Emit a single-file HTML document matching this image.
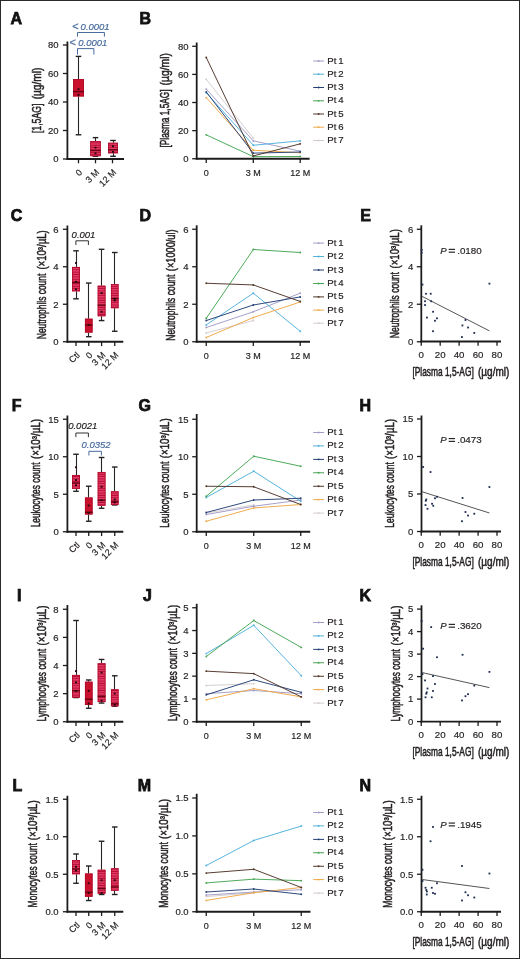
<!DOCTYPE html>
<html><head><meta charset="utf-8"><style>html,body{margin:0;padding:0;background:#fff;}svg{display:block;will-change:transform;}text{font-family:"Liberation Sans",sans-serif;}</style></head><body>
<svg width="520" height="959" viewBox="0 0 520 959">
<defs><pattern id="stripes" patternUnits="userSpaceOnUse" width="8" height="2.35"><rect width="8" height="2.35" fill="#e63c68"/><rect y="1.4" width="8" height="0.95" fill="#b40d34"/></pattern></defs>
<rect x="0" y="0" width="520" height="959" fill="#fff"/>
<text x="22" y="23.6" font-size="16" font-weight="bold" text-anchor="end" fill="#111" stroke="#111" stroke-width="0.75">A</text>
<line x1="67.4" y1="41.5" x2="67.4" y2="159.9" stroke="#1c1c1c" stroke-width="1.8" />
<line x1="62.9" y1="159" x2="67.4" y2="159" stroke="#1c1c1c" stroke-width="1.3" />
<text x="58.6" y="162.3" font-size="9.5" text-anchor="end" fill="#231f20" stroke="#231f20" stroke-width="0.18" >0</text>
<line x1="62.9" y1="130.5" x2="67.4" y2="130.5" stroke="#1c1c1c" stroke-width="1.3" />
<text x="58.6" y="133.8" font-size="9.5" text-anchor="end" fill="#231f20" stroke="#231f20" stroke-width="0.18" >20</text>
<line x1="62.9" y1="102" x2="67.4" y2="102" stroke="#1c1c1c" stroke-width="1.3" />
<text x="58.6" y="105.3" font-size="9.5" text-anchor="end" fill="#231f20" stroke="#231f20" stroke-width="0.18" >40</text>
<line x1="62.9" y1="73.5" x2="67.4" y2="73.5" stroke="#1c1c1c" stroke-width="1.3" />
<text x="58.6" y="76.8" font-size="9.5" text-anchor="end" fill="#231f20" stroke="#231f20" stroke-width="0.18" >60</text>
<line x1="62.9" y1="45" x2="67.4" y2="45" stroke="#1c1c1c" stroke-width="1.3" />
<text x="58.6" y="48.3" font-size="9.5" text-anchor="end" fill="#231f20" stroke="#231f20" stroke-width="0.18" >80</text>
<line x1="66.5" y1="159" x2="124" y2="159" stroke="#1c1c1c" stroke-width="1.8" />
<line x1="78.5" y1="159" x2="78.5" y2="163.3" stroke="#1c1c1c" stroke-width="1.3" />
<line x1="95.5" y1="159" x2="95.5" y2="163.3" stroke="#1c1c1c" stroke-width="1.3" />
<line x1="112.5" y1="159" x2="112.5" y2="163.3" stroke="#1c1c1c" stroke-width="1.3" />
<line x1="78.5" y1="56.4" x2="78.5" y2="79.06" stroke="#262626" stroke-width="1.1" />
<line x1="78.5" y1="96.44" x2="78.5" y2="134.78" stroke="#262626" stroke-width="1.1" />
<line x1="75.7" y1="56.4" x2="81.3" y2="56.4" stroke="#222" stroke-width="1.4" />
<line x1="75.7" y1="134.78" x2="81.3" y2="134.78" stroke="#222" stroke-width="1.4" />
<rect x="73" y="79.06" width="11" height="17.39" fill="#c9102c"/>
<rect x="73.4" y="79.46" width="10.2" height="16.59" fill="none" stroke="#b00a2a" stroke-width="0.8"/>
<line x1="73" y1="91.6" x2="84" y2="91.6" stroke="#6a0414" stroke-width="1.4" />
<rect x="77.5" y="88.27" width="2" height="1.8" fill="#2a060c"/>
<rect x="77.5" y="93.97" width="2" height="1.8" fill="#2a060c"/>
<line x1="95.5" y1="137.62" x2="95.5" y2="141.05" stroke="#262626" stroke-width="1.1" />
<line x1="95.5" y1="156.15" x2="95.5" y2="156.29" stroke="#262626" stroke-width="1.1" />
<line x1="92.7" y1="137.62" x2="98.3" y2="137.62" stroke="#222" stroke-width="1.4" />
<line x1="92.7" y1="156.29" x2="98.3" y2="156.29" stroke="#222" stroke-width="1.4" />
<rect x="90.25" y="141.05" width="10.5" height="15.1" fill="url(#stripes)"/>
<rect x="90.65" y="141.45" width="9.7" height="14.3" fill="none" stroke="#b00a2a" stroke-width="0.8"/>
<line x1="90.25" y1="150.45" x2="100.75" y2="150.45" stroke="#6a0414" stroke-width="1.4" />
<rect x="94.5" y="146.7" width="2" height="1.8" fill="#2a060c"/>
<rect x="94.5" y="152.4" width="2" height="1.8" fill="#2a060c"/>
<line x1="113.5" y1="140.47" x2="113.5" y2="142.75" stroke="#262626" stroke-width="1.1" />
<line x1="113.5" y1="153.3" x2="113.5" y2="156.29" stroke="#262626" stroke-width="1.1" />
<line x1="110.2" y1="140.47" x2="115.8" y2="140.47" stroke="#222" stroke-width="1.4" />
<line x1="110.2" y1="156.29" x2="115.8" y2="156.29" stroke="#222" stroke-width="1.4" />
<rect x="108" y="142.75" width="10" height="10.55" fill="url(#stripes)"/>
<rect x="108.4" y="143.16" width="9.2" height="9.75" fill="none" stroke="#b00a2a" stroke-width="0.8"/>
<line x1="108" y1="149.74" x2="118" y2="149.74" stroke="#6a0414" stroke-width="1.4" />
<rect x="112" y="145.28" width="2" height="1.8" fill="#2a060c"/>
<rect x="112" y="150.97" width="2" height="1.8" fill="#2a060c"/>
<text transform="translate(82.9,173) rotate(-45)" x="0" y="0" font-size="9" text-anchor="end" fill="#231f20" stroke="#231f20" stroke-width="0.18">0</text>
<text transform="translate(99.9,173) rotate(-45)" x="0" y="0" font-size="9" text-anchor="end" fill="#231f20" stroke="#231f20" stroke-width="0.18">3 M</text>
<text transform="translate(116.9,173) rotate(-45)" x="0" y="0" font-size="9" text-anchor="end" fill="#231f20" stroke="#231f20" stroke-width="0.18">12 M</text>
<text transform="translate(40.6,133.11) rotate(-90)" x="0" y="0" font-size="11.9" fill="#231f20" stroke="#231f20" stroke-width="0.5" textLength="29.48" lengthAdjust="spacingAndGlyphs">[1,5AG]</text>
<text transform="translate(40.6,99.36) rotate(-90)" x="0" y="0" font-size="11.9" fill="#231f20" stroke="#231f20" stroke-width="0.5" textLength="31.68" lengthAdjust="spacingAndGlyphs">(µg/ml)</text>
<text x="72.2" y="29.6" font-size="11" text-anchor="start" fill="#476c9e" stroke="#476c9e" stroke-width="0.18" >&lt;</text>
<text x="80.6" y="29.6" font-size="9.5" font-style="italic" fill="#476c9e" stroke="#476c9e" stroke-width="0.18" text-anchor="start">0.0001</text>
<path d="M77.5,36.7 V32.5 H104.4 V36.7" fill="none" stroke="#476c9e" stroke-width="1"/>
<text x="69.6" y="45.5" font-size="11" text-anchor="start" fill="#476c9e" stroke="#476c9e" stroke-width="0.18" >&lt;</text>
<text x="78.3" y="45.5" font-size="9.5" font-style="italic" fill="#476c9e" stroke="#476c9e" stroke-width="0.18" text-anchor="start">0.0001</text>
<path d="M77.5,54.5 V48.6 H93.9 V54.5" fill="none" stroke="#476c9e" stroke-width="1"/>
<text x="151" y="23.6" font-size="16" font-weight="bold" text-anchor="end" fill="#111" stroke="#111" stroke-width="0.75">B</text>
<line x1="196.7" y1="42.5" x2="196.7" y2="159.65" stroke="#1c1c1c" stroke-width="1.8" />
<line x1="192.2" y1="158.75" x2="196.7" y2="158.75" stroke="#1c1c1c" stroke-width="1.3" />
<text x="188.6" y="162.05" font-size="9.5" text-anchor="end" fill="#231f20" stroke="#231f20" stroke-width="0.18" >0</text>
<line x1="192.2" y1="130.63" x2="196.7" y2="130.63" stroke="#1c1c1c" stroke-width="1.3" />
<text x="188.6" y="133.93" font-size="9.5" text-anchor="end" fill="#231f20" stroke="#231f20" stroke-width="0.18" >20</text>
<line x1="192.2" y1="102.51" x2="196.7" y2="102.51" stroke="#1c1c1c" stroke-width="1.3" />
<text x="188.6" y="105.81" font-size="9.5" text-anchor="end" fill="#231f20" stroke="#231f20" stroke-width="0.18" >40</text>
<line x1="192.2" y1="74.39" x2="196.7" y2="74.39" stroke="#1c1c1c" stroke-width="1.3" />
<text x="188.6" y="77.69" font-size="9.5" text-anchor="end" fill="#231f20" stroke="#231f20" stroke-width="0.18" >60</text>
<line x1="192.2" y1="46.27" x2="196.7" y2="46.27" stroke="#1c1c1c" stroke-width="1.3" />
<text x="188.6" y="49.57" font-size="9.5" text-anchor="end" fill="#231f20" stroke="#231f20" stroke-width="0.18" >80</text>
<line x1="195.8" y1="158.75" x2="309.6" y2="158.75" stroke="#1c1c1c" stroke-width="1.8" />
<line x1="206.25" y1="158.75" x2="206.25" y2="163.05" stroke="#1c1c1c" stroke-width="1.3" />
<line x1="253.3" y1="158.75" x2="253.3" y2="163.05" stroke="#1c1c1c" stroke-width="1.3" />
<line x1="300.2" y1="158.75" x2="300.2" y2="163.05" stroke="#1c1c1c" stroke-width="1.3" />
<text x="206.25" y="175.8" font-size="9" text-anchor="middle" fill="#231f20" stroke="#231f20" stroke-width="0.18" >0</text>
<text x="253.3" y="175.8" font-size="9" text-anchor="middle" fill="#231f20" stroke="#231f20" stroke-width="0.18" >3 M</text>
<text x="300.2" y="175.8" font-size="9" text-anchor="middle" fill="#231f20" stroke="#231f20" stroke-width="0.18" >12 M</text>
<polyline points="206.25,79.31 253.3,138.22" fill="none" stroke="#d4cbd0" stroke-width="0.95"/>
<circle cx="206.25" cy="79.31" r="0.95" fill="#d4cbd0"/>
<circle cx="253.3" cy="138.22" r="0.95" fill="#d4cbd0"/>
<polyline points="206.25,89.15 253.3,140.89 300.2,151.16" fill="none" stroke="#a09bc8" stroke-width="0.95"/>
<circle cx="206.25" cy="89.15" r="0.95" fill="#a09bc8"/>
<circle cx="253.3" cy="140.89" r="0.95" fill="#a09bc8"/>
<circle cx="300.2" cy="151.16" r="0.95" fill="#a09bc8"/>
<polyline points="206.25,92.67 253.3,145.25 300.2,140.89" fill="none" stroke="#4fb0dc" stroke-width="0.95"/>
<circle cx="206.25" cy="92.67" r="0.95" fill="#4fb0dc"/>
<circle cx="253.3" cy="145.25" r="0.95" fill="#4fb0dc"/>
<circle cx="300.2" cy="140.89" r="0.95" fill="#4fb0dc"/>
<polyline points="206.25,97.59 253.3,150.31 300.2,152.7" fill="none" stroke="#eea846" stroke-width="0.95"/>
<circle cx="206.25" cy="97.59" r="0.95" fill="#eea846"/>
<circle cx="253.3" cy="150.31" r="0.95" fill="#eea846"/>
<circle cx="300.2" cy="152.7" r="0.95" fill="#eea846"/>
<polyline points="206.25,91.97 253.3,153.13 300.2,152" fill="none" stroke="#233f75" stroke-width="0.95"/>
<circle cx="206.25" cy="91.97" r="0.95" fill="#233f75"/>
<circle cx="253.3" cy="153.13" r="0.95" fill="#233f75"/>
<circle cx="300.2" cy="152" r="0.95" fill="#233f75"/>
<polyline points="206.25,134.85 253.3,156.64 300.2,156.5" fill="none" stroke="#45a552" stroke-width="0.95"/>
<circle cx="206.25" cy="134.85" r="0.95" fill="#45a552"/>
<circle cx="253.3" cy="156.64" r="0.95" fill="#45a552"/>
<circle cx="300.2" cy="156.5" r="0.95" fill="#45a552"/>
<polyline points="206.25,57.52 253.3,155.94 300.2,143.85" fill="none" stroke="#4f3428" stroke-width="0.95"/>
<circle cx="206.25" cy="57.52" r="0.95" fill="#4f3428"/>
<circle cx="253.3" cy="155.94" r="0.95" fill="#4f3428"/>
<circle cx="300.2" cy="143.85" r="0.95" fill="#4f3428"/>
<line x1="313.2" y1="61" x2="324" y2="61" stroke="#a09bc8" stroke-width="1.0" />
<circle cx="318.6" cy="61" r="0.9" fill="#a09bc8"/>
<text x="327.3" y="63.5" font-size="9.6" fill="#231f20" stroke="#231f20" stroke-width="0.18">Pt</text><text x="338.3" y="63.5" font-size="9.6" fill="#231f20" stroke="#231f20" stroke-width="0.18">1</text>
<line x1="313.2" y1="74.2" x2="324" y2="74.2" stroke="#4fb0dc" stroke-width="1.0" />
<circle cx="318.6" cy="74.2" r="0.9" fill="#4fb0dc"/>
<text x="327.3" y="76.7" font-size="9.6" fill="#231f20" stroke="#231f20" stroke-width="0.18">Pt</text><text x="338.3" y="76.7" font-size="9.6" fill="#231f20" stroke="#231f20" stroke-width="0.18">2</text>
<line x1="313.2" y1="87.5" x2="324" y2="87.5" stroke="#233f75" stroke-width="1.0" />
<circle cx="318.6" cy="87.5" r="0.9" fill="#233f75"/>
<text x="327.3" y="90" font-size="9.6" fill="#231f20" stroke="#231f20" stroke-width="0.18">Pt</text><text x="338.3" y="90" font-size="9.6" fill="#231f20" stroke="#231f20" stroke-width="0.18">3</text>
<line x1="313.2" y1="100.8" x2="324" y2="100.8" stroke="#45a552" stroke-width="1.0" />
<circle cx="318.6" cy="100.8" r="0.9" fill="#45a552"/>
<text x="327.3" y="103.3" font-size="9.6" fill="#231f20" stroke="#231f20" stroke-width="0.18">Pt</text><text x="338.3" y="103.3" font-size="9.6" fill="#231f20" stroke="#231f20" stroke-width="0.18">4</text>
<line x1="313.2" y1="114" x2="324" y2="114" stroke="#4f3428" stroke-width="1.0" />
<circle cx="318.6" cy="114" r="0.9" fill="#4f3428"/>
<text x="327.3" y="116.5" font-size="9.6" fill="#231f20" stroke="#231f20" stroke-width="0.18">Pt</text><text x="338.3" y="116.5" font-size="9.6" fill="#231f20" stroke="#231f20" stroke-width="0.18">5</text>
<line x1="313.2" y1="127.2" x2="324" y2="127.2" stroke="#eea846" stroke-width="1.0" />
<circle cx="318.6" cy="127.2" r="0.9" fill="#eea846"/>
<text x="327.3" y="129.7" font-size="9.6" fill="#231f20" stroke="#231f20" stroke-width="0.18">Pt</text><text x="338.3" y="129.7" font-size="9.6" fill="#231f20" stroke="#231f20" stroke-width="0.18">6</text>
<line x1="313.2" y1="140.5" x2="324" y2="140.5" stroke="#d4cbd0" stroke-width="1.0" />
<circle cx="318.6" cy="140.5" r="0.9" fill="#d4cbd0"/>
<text x="327.3" y="143" font-size="9.6" fill="#231f20" stroke="#231f20" stroke-width="0.18">Pt</text><text x="338.3" y="143" font-size="9.6" fill="#231f20" stroke="#231f20" stroke-width="0.18">7</text>
<text transform="translate(169.4,147.48) rotate(-90)" x="0" y="0" font-size="11.9" fill="#231f20" stroke="#231f20" stroke-width="0.5" textLength="58.04" lengthAdjust="spacingAndGlyphs">[Plasma 1,5AG]</text>
<text transform="translate(169.4,85.42) rotate(-90)" x="0" y="0" font-size="11.9" fill="#231f20" stroke="#231f20" stroke-width="0.5" textLength="32.3" lengthAdjust="spacingAndGlyphs">(µg/ml)</text>
<text x="22.3" y="221.3" font-size="16" font-weight="bold" text-anchor="end" fill="#111" stroke="#111" stroke-width="0.75">C</text>
<line x1="67.4" y1="225.5" x2="67.4" y2="342.65" stroke="#1c1c1c" stroke-width="1.8" />
<line x1="62.9" y1="341.75" x2="67.4" y2="341.75" stroke="#1c1c1c" stroke-width="1.3" />
<text x="58.6" y="345.05" font-size="9.5" text-anchor="end" fill="#231f20" stroke="#231f20" stroke-width="0.18" >0</text>
<line x1="62.9" y1="304.25" x2="67.4" y2="304.25" stroke="#1c1c1c" stroke-width="1.3" />
<text x="58.6" y="307.55" font-size="9.5" text-anchor="end" fill="#231f20" stroke="#231f20" stroke-width="0.18" >2</text>
<line x1="62.9" y1="266.75" x2="67.4" y2="266.75" stroke="#1c1c1c" stroke-width="1.3" />
<text x="58.6" y="270.05" font-size="9.5" text-anchor="end" fill="#231f20" stroke="#231f20" stroke-width="0.18" >4</text>
<line x1="62.9" y1="229.25" x2="67.4" y2="229.25" stroke="#1c1c1c" stroke-width="1.3" />
<text x="58.6" y="232.55" font-size="9.5" text-anchor="end" fill="#231f20" stroke="#231f20" stroke-width="0.18" >6</text>
<line x1="66.5" y1="341.75" x2="123.3" y2="341.75" stroke="#1c1c1c" stroke-width="1.8" />
<line x1="76" y1="341.75" x2="76" y2="346.05" stroke="#1c1c1c" stroke-width="1.3" />
<line x1="88.75" y1="341.75" x2="88.75" y2="346.05" stroke="#1c1c1c" stroke-width="1.3" />
<line x1="101.6" y1="341.75" x2="101.6" y2="346.05" stroke="#1c1c1c" stroke-width="1.3" />
<line x1="114.75" y1="341.75" x2="114.75" y2="346.05" stroke="#1c1c1c" stroke-width="1.3" />
<line x1="76.5" y1="250.81" x2="76.5" y2="266.94" stroke="#262626" stroke-width="1.1" />
<line x1="76.5" y1="291.31" x2="76.5" y2="298.81" stroke="#262626" stroke-width="1.1" />
<line x1="73.2" y1="250.81" x2="78.8" y2="250.81" stroke="#222" stroke-width="1.4" />
<line x1="73.2" y1="298.81" x2="78.8" y2="298.81" stroke="#222" stroke-width="1.4" />
<rect x="72" y="266.94" width="8" height="24.38" fill="url(#stripes)"/>
<rect x="72.4" y="267.34" width="7.2" height="23.57" fill="none" stroke="#b00a2a" stroke-width="0.8"/>
<line x1="72" y1="282.69" x2="80" y2="282.69" stroke="#6a0414" stroke-width="1.4" />
<rect x="75" y="280.85" width="2" height="1.8" fill="#2a060c"/>
<rect x="75" y="288.35" width="2" height="1.8" fill="#2a060c"/>
<rect x="75" y="262.1" width="2" height="1.8" fill="#2a060c"/>
<line x1="88.5" y1="283.06" x2="88.5" y2="318.69" stroke="#262626" stroke-width="1.1" />
<line x1="88.5" y1="332.56" x2="88.5" y2="336.69" stroke="#262626" stroke-width="1.1" />
<line x1="85.95" y1="283.06" x2="91.55" y2="283.06" stroke="#222" stroke-width="1.4" />
<line x1="85.95" y1="336.69" x2="91.55" y2="336.69" stroke="#222" stroke-width="1.4" />
<rect x="84.95" y="318.69" width="7.6" height="13.88" fill="#c9102c"/>
<rect x="85.35" y="319.09" width="6.8" height="13.07" fill="none" stroke="#b00a2a" stroke-width="0.8"/>
<line x1="84.95" y1="325.06" x2="92.55" y2="325.06" stroke="#6a0414" stroke-width="1.4" />
<rect x="87.75" y="323.98" width="2" height="1.8" fill="#2a060c"/>
<line x1="101.5" y1="249.31" x2="101.5" y2="285.69" stroke="#262626" stroke-width="1.1" />
<line x1="101.5" y1="316.25" x2="101.5" y2="320.56" stroke="#262626" stroke-width="1.1" />
<line x1="98.8" y1="249.31" x2="104.4" y2="249.31" stroke="#222" stroke-width="1.4" />
<line x1="98.8" y1="320.56" x2="104.4" y2="320.56" stroke="#222" stroke-width="1.4" />
<rect x="97.7" y="285.69" width="7.8" height="30.56" fill="url(#stripes)"/>
<rect x="98.1" y="286.09" width="7" height="29.76" fill="none" stroke="#b00a2a" stroke-width="0.8"/>
<line x1="97.7" y1="305.19" x2="105.5" y2="305.19" stroke="#6a0414" stroke-width="1.4" />
<rect x="100.6" y="310.85" width="2" height="1.8" fill="#2a060c"/>
<rect x="100.6" y="292.1" width="2" height="1.8" fill="#2a060c"/>
<line x1="114.5" y1="252.5" x2="114.5" y2="284.19" stroke="#262626" stroke-width="1.1" />
<line x1="114.5" y1="308.19" x2="114.5" y2="331.25" stroke="#262626" stroke-width="1.1" />
<line x1="111.95" y1="252.5" x2="117.55" y2="252.5" stroke="#222" stroke-width="1.4" />
<line x1="111.95" y1="331.25" x2="117.55" y2="331.25" stroke="#222" stroke-width="1.4" />
<rect x="110.95" y="284.19" width="7.6" height="24" fill="url(#stripes)"/>
<rect x="111.35" y="284.59" width="6.8" height="23.2" fill="none" stroke="#b00a2a" stroke-width="0.8"/>
<line x1="110.95" y1="298.62" x2="118.55" y2="298.62" stroke="#6a0414" stroke-width="1.4" />
<rect x="113.75" y="297.73" width="2" height="1.8" fill="#2a060c"/>
<rect x="113.75" y="299.6" width="2" height="1.8" fill="#2a060c"/>
<text transform="translate(80.4,355.75) rotate(-45)" x="0" y="0" font-size="9" text-anchor="end" fill="#231f20" stroke="#231f20" stroke-width="0.18">Ctl</text>
<text transform="translate(93.15,355.75) rotate(-45)" x="0" y="0" font-size="9" text-anchor="end" fill="#231f20" stroke="#231f20" stroke-width="0.18">0</text>
<text transform="translate(106,355.75) rotate(-45)" x="0" y="0" font-size="9" text-anchor="end" fill="#231f20" stroke="#231f20" stroke-width="0.18">3 M</text>
<text transform="translate(119.15,355.75) rotate(-45)" x="0" y="0" font-size="9" text-anchor="end" fill="#231f20" stroke="#231f20" stroke-width="0.18">12 M</text>
<text transform="translate(45.7,339.17) rotate(-90)" x="0" y="0" font-size="11.9" fill="#231f20" stroke="#231f20" stroke-width="0.5" textLength="65.49" lengthAdjust="spacingAndGlyphs">Neutrophils count</text>
<text transform="translate(45.7,269.58) rotate(-90)" x="0" y="0" font-size="11.9" fill="#231f20" stroke="#231f20" stroke-width="0.5" textLength="39.36" lengthAdjust="spacingAndGlyphs">(×10³/µL)</text>
<text x="71.6" y="237.6" font-size="9.5" font-style="italic" fill="#231f20" stroke="#231f20" stroke-width="0.18" text-anchor="start">0.001</text>
<path d="M75.9,245 V240.8 H88.4 V245" fill="none" stroke="#333" stroke-width="1"/>
<text x="151" y="221.3" font-size="16" font-weight="bold" text-anchor="end" fill="#111" stroke="#111" stroke-width="0.75">D</text>
<line x1="196.7" y1="225.3" x2="196.7" y2="342.65" stroke="#1c1c1c" stroke-width="1.8" />
<line x1="192.2" y1="341.75" x2="196.7" y2="341.75" stroke="#1c1c1c" stroke-width="1.3" />
<text x="188.6" y="345.05" font-size="9.5" text-anchor="end" fill="#231f20" stroke="#231f20" stroke-width="0.18" >0</text>
<line x1="192.2" y1="304.25" x2="196.7" y2="304.25" stroke="#1c1c1c" stroke-width="1.3" />
<text x="188.6" y="307.55" font-size="9.5" text-anchor="end" fill="#231f20" stroke="#231f20" stroke-width="0.18" >2</text>
<line x1="192.2" y1="266.75" x2="196.7" y2="266.75" stroke="#1c1c1c" stroke-width="1.3" />
<text x="188.6" y="270.05" font-size="9.5" text-anchor="end" fill="#231f20" stroke="#231f20" stroke-width="0.18" >4</text>
<line x1="192.2" y1="229.25" x2="196.7" y2="229.25" stroke="#1c1c1c" stroke-width="1.3" />
<text x="188.6" y="232.55" font-size="9.5" text-anchor="end" fill="#231f20" stroke="#231f20" stroke-width="0.18" >6</text>
<line x1="195.8" y1="341.75" x2="310" y2="341.75" stroke="#1c1c1c" stroke-width="1.8" />
<line x1="206.25" y1="341.75" x2="206.25" y2="346.05" stroke="#1c1c1c" stroke-width="1.3" />
<line x1="253.3" y1="341.75" x2="253.3" y2="346.05" stroke="#1c1c1c" stroke-width="1.3" />
<line x1="300.2" y1="341.75" x2="300.2" y2="346.05" stroke="#1c1c1c" stroke-width="1.3" />
<text x="206.25" y="358.8" font-size="9" text-anchor="middle" fill="#231f20" stroke="#231f20" stroke-width="0.18" >0</text>
<text x="253.3" y="358.8" font-size="9" text-anchor="middle" fill="#231f20" stroke="#231f20" stroke-width="0.18" >3 M</text>
<text x="300.2" y="358.8" font-size="9" text-anchor="middle" fill="#231f20" stroke="#231f20" stroke-width="0.18" >12 M</text>
<polyline points="206.25,332.94 253.3,320.56" fill="none" stroke="#d4cbd0" stroke-width="0.95"/>
<circle cx="206.25" cy="332.94" r="0.95" fill="#d4cbd0"/>
<circle cx="253.3" cy="320.56" r="0.95" fill="#d4cbd0"/>
<polyline points="206.25,327.5 253.3,311.75 300.2,293.19" fill="none" stroke="#a09bc8" stroke-width="0.95"/>
<circle cx="206.25" cy="327.5" r="0.95" fill="#a09bc8"/>
<circle cx="253.3" cy="311.75" r="0.95" fill="#a09bc8"/>
<circle cx="300.2" cy="293.19" r="0.95" fill="#a09bc8"/>
<polyline points="206.25,324.88 253.3,293.19 300.2,331.25" fill="none" stroke="#4fb0dc" stroke-width="0.95"/>
<circle cx="206.25" cy="324.88" r="0.95" fill="#4fb0dc"/>
<circle cx="253.3" cy="293.19" r="0.95" fill="#4fb0dc"/>
<circle cx="300.2" cy="331.25" r="0.95" fill="#4fb0dc"/>
<polyline points="206.25,337.44 253.3,317.56 300.2,302" fill="none" stroke="#eea846" stroke-width="0.95"/>
<circle cx="206.25" cy="337.44" r="0.95" fill="#eea846"/>
<circle cx="253.3" cy="317.56" r="0.95" fill="#eea846"/>
<circle cx="300.2" cy="302" r="0.95" fill="#eea846"/>
<polyline points="206.25,320.56 253.3,305 300.2,296.94" fill="none" stroke="#233f75" stroke-width="0.95"/>
<circle cx="206.25" cy="320.56" r="0.95" fill="#233f75"/>
<circle cx="253.3" cy="305" r="0.95" fill="#233f75"/>
<circle cx="300.2" cy="296.94" r="0.95" fill="#233f75"/>
<polyline points="206.25,318.31 253.3,249.5 300.2,252.5" fill="none" stroke="#45a552" stroke-width="0.95"/>
<circle cx="206.25" cy="318.31" r="0.95" fill="#45a552"/>
<circle cx="253.3" cy="249.5" r="0.95" fill="#45a552"/>
<circle cx="300.2" cy="252.5" r="0.95" fill="#45a552"/>
<polyline points="206.25,283.25 253.3,284.94 300.2,301.44" fill="none" stroke="#4f3428" stroke-width="0.95"/>
<circle cx="206.25" cy="283.25" r="0.95" fill="#4f3428"/>
<circle cx="253.3" cy="284.94" r="0.95" fill="#4f3428"/>
<circle cx="300.2" cy="301.44" r="0.95" fill="#4f3428"/>
<line x1="313.2" y1="243.1" x2="324" y2="243.1" stroke="#a09bc8" stroke-width="1.0" />
<circle cx="318.6" cy="243.1" r="0.9" fill="#a09bc8"/>
<text x="327.3" y="245.6" font-size="9.6" fill="#231f20" stroke="#231f20" stroke-width="0.18">Pt</text><text x="338.3" y="245.6" font-size="9.6" fill="#231f20" stroke="#231f20" stroke-width="0.18">1</text>
<line x1="313.2" y1="256.5" x2="324" y2="256.5" stroke="#4fb0dc" stroke-width="1.0" />
<circle cx="318.6" cy="256.5" r="0.9" fill="#4fb0dc"/>
<text x="327.3" y="259" font-size="9.6" fill="#231f20" stroke="#231f20" stroke-width="0.18">Pt</text><text x="338.3" y="259" font-size="9.6" fill="#231f20" stroke="#231f20" stroke-width="0.18">2</text>
<line x1="313.2" y1="270" x2="324" y2="270" stroke="#233f75" stroke-width="1.0" />
<circle cx="318.6" cy="270" r="0.9" fill="#233f75"/>
<text x="327.3" y="272.5" font-size="9.6" fill="#231f20" stroke="#231f20" stroke-width="0.18">Pt</text><text x="338.3" y="272.5" font-size="9.6" fill="#231f20" stroke="#231f20" stroke-width="0.18">3</text>
<line x1="313.2" y1="283.5" x2="324" y2="283.5" stroke="#45a552" stroke-width="1.0" />
<circle cx="318.6" cy="283.5" r="0.9" fill="#45a552"/>
<text x="327.3" y="286" font-size="9.6" fill="#231f20" stroke="#231f20" stroke-width="0.18">Pt</text><text x="338.3" y="286" font-size="9.6" fill="#231f20" stroke="#231f20" stroke-width="0.18">4</text>
<line x1="313.2" y1="296.9" x2="324" y2="296.9" stroke="#4f3428" stroke-width="1.0" />
<circle cx="318.6" cy="296.9" r="0.9" fill="#4f3428"/>
<text x="327.3" y="299.4" font-size="9.6" fill="#231f20" stroke="#231f20" stroke-width="0.18">Pt</text><text x="338.3" y="299.4" font-size="9.6" fill="#231f20" stroke="#231f20" stroke-width="0.18">5</text>
<line x1="313.2" y1="310.1" x2="324" y2="310.1" stroke="#eea846" stroke-width="1.0" />
<circle cx="318.6" cy="310.1" r="0.9" fill="#eea846"/>
<text x="327.3" y="312.6" font-size="9.6" fill="#231f20" stroke="#231f20" stroke-width="0.18">Pt</text><text x="338.3" y="312.6" font-size="9.6" fill="#231f20" stroke="#231f20" stroke-width="0.18">6</text>
<line x1="313.2" y1="323.2" x2="324" y2="323.2" stroke="#d4cbd0" stroke-width="1.0" />
<circle cx="318.6" cy="323.2" r="0.9" fill="#d4cbd0"/>
<text x="327.3" y="325.7" font-size="9.6" fill="#231f20" stroke="#231f20" stroke-width="0.18">Pt</text><text x="338.3" y="325.7" font-size="9.6" fill="#231f20" stroke="#231f20" stroke-width="0.18">7</text>
<text transform="translate(175,340.68) rotate(-90)" x="0" y="0" font-size="11.9" fill="#231f20" stroke="#231f20" stroke-width="0.5" textLength="66.14" lengthAdjust="spacingAndGlyphs">Neutrophils count</text>
<text transform="translate(175,271.15) rotate(-90)" x="0" y="0" font-size="11.9" fill="#231f20" stroke="#231f20" stroke-width="0.5" textLength="41.71" lengthAdjust="spacingAndGlyphs">(×1000/ul)</text>
<text x="371" y="221.3" font-size="16" font-weight="bold" text-anchor="end" fill="#111" stroke="#111" stroke-width="0.75">E</text>
<line x1="421.3" y1="225.3" x2="421.3" y2="342.4" stroke="#1c1c1c" stroke-width="1.8" />
<line x1="416.8" y1="341.75" x2="421.3" y2="341.75" stroke="#1c1c1c" stroke-width="1.3" />
<text x="413.2" y="345.05" font-size="9.5" text-anchor="end" fill="#231f20" stroke="#231f20" stroke-width="0.18" >0</text>
<line x1="416.8" y1="304.25" x2="421.3" y2="304.25" stroke="#1c1c1c" stroke-width="1.3" />
<text x="413.2" y="307.55" font-size="9.5" text-anchor="end" fill="#231f20" stroke="#231f20" stroke-width="0.18" >2</text>
<line x1="416.8" y1="266.75" x2="421.3" y2="266.75" stroke="#1c1c1c" stroke-width="1.3" />
<text x="413.2" y="270.05" font-size="9.5" text-anchor="end" fill="#231f20" stroke="#231f20" stroke-width="0.18" >4</text>
<line x1="416.8" y1="229.25" x2="421.3" y2="229.25" stroke="#1c1c1c" stroke-width="1.3" />
<text x="413.2" y="232.55" font-size="9.5" text-anchor="end" fill="#231f20" stroke="#231f20" stroke-width="0.18" >6</text>
<line x1="420.4" y1="341.5" x2="501" y2="341.5" stroke="#1c1c1c" stroke-width="1.8" />
<line x1="421.25" y1="341.5" x2="421.25" y2="345.8" stroke="#1c1c1c" stroke-width="1.3" />
<line x1="440.19" y1="341.5" x2="440.19" y2="345.8" stroke="#1c1c1c" stroke-width="1.3" />
<line x1="459.13" y1="341.5" x2="459.13" y2="345.8" stroke="#1c1c1c" stroke-width="1.3" />
<line x1="478.07" y1="341.5" x2="478.07" y2="345.8" stroke="#1c1c1c" stroke-width="1.3" />
<line x1="497.01" y1="341.5" x2="497.01" y2="345.8" stroke="#1c1c1c" stroke-width="1.3" />
<text x="421.25" y="358.2" font-size="9.7" text-anchor="middle" fill="#231f20" stroke="#231f20" stroke-width="0.18" >0</text>
<text x="440.19" y="358.2" font-size="9.7" text-anchor="middle" fill="#231f20" stroke="#231f20" stroke-width="0.18" >20</text>
<text x="459.13" y="358.2" font-size="9.7" text-anchor="middle" fill="#231f20" stroke="#231f20" stroke-width="0.18" >40</text>
<text x="478.07" y="358.2" font-size="9.7" text-anchor="middle" fill="#231f20" stroke="#231f20" stroke-width="0.18" >60</text>
<text x="497.01" y="358.2" font-size="9.7" text-anchor="middle" fill="#231f20" stroke="#231f20" stroke-width="0.18" >80</text>
<text x="412.41" y="375.6" font-size="11.9" fill="#231f20" stroke="#231f20" stroke-width="0.5" textLength="61.34" lengthAdjust="spacingAndGlyphs">[Plasma 1,5-AG]</text>
<text x="478" y="375.6" font-size="11.9" fill="#231f20" stroke="#231f20" stroke-width="0.5" textLength="31.31" lengthAdjust="spacingAndGlyphs">(µg/ml)</text>
<text transform="translate(399.2,338.18) rotate(-90)" x="0" y="0" font-size="11.9" fill="#231f20" stroke="#231f20" stroke-width="0.5" textLength="66.14" lengthAdjust="spacingAndGlyphs">Neutrophils count</text>
<text transform="translate(399.2,268.48) rotate(-90)" x="0" y="0" font-size="11.9" fill="#231f20" stroke="#231f20" stroke-width="0.5" textLength="39.36" lengthAdjust="spacingAndGlyphs">(×10³/µL)</text>
<text x="440.3" y="253.8" font-size="9.6" font-style="italic" fill="#231f20" stroke="#231f20" stroke-width="0.18">P</text>
<rect x="448.7" y="248.8" width="6.3" height="1.15" fill="#231f20"/>
<rect x="448.7" y="251.6" width="6.3" height="1.15" fill="#231f20"/>
<text x="457.2" y="253.8" font-size="9.8" fill="#231f20" stroke="#231f20" stroke-width="0.18">.0180</text>
<line x1="422.05" y1="296.38" x2="489.43" y2="330.88" stroke="#555" stroke-width="1" />
<rect x="421.58" y="283.66" width="1.8" height="1.8" fill="#1d2b4f"/>
<rect x="488.53" y="282.73" width="1.8" height="1.8" fill="#1d2b4f"/>
<rect x="425.09" y="292.85" width="1.8" height="1.8" fill="#1d2b4f"/>
<rect x="429.82" y="292.85" width="1.8" height="1.8" fill="#1d2b4f"/>
<rect x="424.14" y="300.35" width="1.8" height="1.8" fill="#1d2b4f"/>
<rect x="424.14" y="304.1" width="1.8" height="1.8" fill="#1d2b4f"/>
<rect x="430.29" y="300.35" width="1.8" height="1.8" fill="#1d2b4f"/>
<rect x="432.19" y="310.85" width="1.8" height="1.8" fill="#1d2b4f"/>
<rect x="426.03" y="316.66" width="1.8" height="1.8" fill="#1d2b4f"/>
<rect x="436.07" y="317.41" width="1.8" height="1.8" fill="#1d2b4f"/>
<rect x="434.08" y="319.85" width="1.8" height="1.8" fill="#1d2b4f"/>
<rect x="432.09" y="330.35" width="1.8" height="1.8" fill="#1d2b4f"/>
<rect x="461.54" y="324.54" width="1.8" height="1.8" fill="#1d2b4f"/>
<rect x="464.57" y="319.1" width="1.8" height="1.8" fill="#1d2b4f"/>
<rect x="467.13" y="326.6" width="1.8" height="1.8" fill="#1d2b4f"/>
<rect x="473.38" y="332.04" width="1.8" height="1.8" fill="#1d2b4f"/>
<rect x="461.07" y="336.16" width="1.8" height="1.8" fill="#1d2b4f"/>
<rect x="420.82" y="248.97" width="1.8" height="1.8" fill="#1d2b4f"/>
<rect x="420.82" y="251.79" width="1.8" height="1.8" fill="#1d2b4f"/>
<text x="21.5" y="411.3" font-size="16" font-weight="bold" text-anchor="end" fill="#111" stroke="#111" stroke-width="0.75">F</text>
<line x1="67.4" y1="415.5" x2="67.4" y2="532.65" stroke="#1c1c1c" stroke-width="1.8" />
<line x1="62.9" y1="531.75" x2="67.4" y2="531.75" stroke="#1c1c1c" stroke-width="1.3" />
<text x="58.9" y="535.05" font-size="9.5" text-anchor="end" fill="#231f20" stroke="#231f20" stroke-width="0.18" >0</text>
<line x1="62.9" y1="494.25" x2="67.4" y2="494.25" stroke="#1c1c1c" stroke-width="1.3" />
<text x="58.9" y="497.55" font-size="9.5" text-anchor="end" fill="#231f20" stroke="#231f20" stroke-width="0.18" >5</text>
<line x1="62.9" y1="456.75" x2="67.4" y2="456.75" stroke="#1c1c1c" stroke-width="1.3" />
<text x="58.9" y="460.05" font-size="9.5" text-anchor="end" fill="#231f20" stroke="#231f20" stroke-width="0.18" >10</text>
<line x1="62.9" y1="419.25" x2="67.4" y2="419.25" stroke="#1c1c1c" stroke-width="1.3" />
<text x="58.9" y="422.55" font-size="9.5" text-anchor="end" fill="#231f20" stroke="#231f20" stroke-width="0.18" >15</text>
<line x1="66.5" y1="531.75" x2="123.3" y2="531.75" stroke="#1c1c1c" stroke-width="1.8" />
<line x1="76" y1="531.75" x2="76" y2="536.05" stroke="#1c1c1c" stroke-width="1.3" />
<line x1="88.75" y1="531.75" x2="88.75" y2="536.05" stroke="#1c1c1c" stroke-width="1.3" />
<line x1="101.6" y1="531.75" x2="101.6" y2="536.05" stroke="#1c1c1c" stroke-width="1.3" />
<line x1="114.75" y1="531.75" x2="114.75" y2="536.05" stroke="#1c1c1c" stroke-width="1.3" />
<line x1="76.5" y1="454.27" x2="76.5" y2="474.98" stroke="#262626" stroke-width="1.1" />
<line x1="76.5" y1="488.77" x2="76.5" y2="491.25" stroke="#262626" stroke-width="1.1" />
<line x1="73.2" y1="454.27" x2="78.8" y2="454.27" stroke="#222" stroke-width="1.4" />
<line x1="73.2" y1="491.25" x2="78.8" y2="491.25" stroke="#222" stroke-width="1.4" />
<rect x="72" y="474.98" width="8" height="13.8" fill="url(#stripes)"/>
<rect x="72.4" y="475.38" width="7.2" height="13" fill="none" stroke="#b00a2a" stroke-width="0.8"/>
<line x1="72" y1="483" x2="80" y2="483" stroke="#6a0414" stroke-width="1.4" />
<rect x="75" y="484.35" width="2" height="1.8" fill="#2a060c"/>
<rect x="75" y="479.1" width="2" height="1.8" fill="#2a060c"/>
<rect x="75" y="466.35" width="2" height="1.8" fill="#2a060c"/>
<line x1="88.5" y1="486.23" x2="88.5" y2="497.48" stroke="#262626" stroke-width="1.1" />
<line x1="88.5" y1="514.5" x2="88.5" y2="521.25" stroke="#262626" stroke-width="1.1" />
<line x1="85.95" y1="486.23" x2="91.55" y2="486.23" stroke="#222" stroke-width="1.4" />
<line x1="85.95" y1="521.25" x2="91.55" y2="521.25" stroke="#222" stroke-width="1.4" />
<rect x="84.95" y="497.48" width="7.6" height="17.02" fill="#c9102c"/>
<rect x="85.35" y="497.88" width="6.8" height="16.22" fill="none" stroke="#b00a2a" stroke-width="0.8"/>
<line x1="84.95" y1="512.25" x2="92.55" y2="512.25" stroke="#6a0414" stroke-width="1.4" />
<rect x="87.75" y="504.6" width="2" height="1.8" fill="#2a060c"/>
<rect x="87.75" y="512.1" width="2" height="1.8" fill="#2a060c"/>
<line x1="101.5" y1="457.5" x2="101.5" y2="471.98" stroke="#262626" stroke-width="1.1" />
<line x1="101.5" y1="505.73" x2="101.5" y2="508.27" stroke="#262626" stroke-width="1.1" />
<line x1="98.8" y1="457.5" x2="104.4" y2="457.5" stroke="#222" stroke-width="1.4" />
<line x1="98.8" y1="508.27" x2="104.4" y2="508.27" stroke="#222" stroke-width="1.4" />
<rect x="97.7" y="471.98" width="7.8" height="33.75" fill="url(#stripes)"/>
<rect x="98.1" y="472.38" width="7" height="32.95" fill="none" stroke="#b00a2a" stroke-width="0.8"/>
<line x1="97.7" y1="500.25" x2="105.5" y2="500.25" stroke="#6a0414" stroke-width="1.4" />
<rect x="100.6" y="499.35" width="2" height="1.8" fill="#2a060c"/>
<rect x="100.6" y="485.85" width="2" height="1.8" fill="#2a060c"/>
<line x1="114.5" y1="467.02" x2="114.5" y2="491.25" stroke="#262626" stroke-width="1.1" />
<line x1="114.5" y1="504.98" x2="114.5" y2="504.98" stroke="#262626" stroke-width="1.1" />
<line x1="111.95" y1="467.02" x2="117.55" y2="467.02" stroke="#222" stroke-width="1.4" />
<line x1="111.95" y1="504.98" x2="117.55" y2="504.98" stroke="#222" stroke-width="1.4" />
<rect x="110.95" y="491.25" width="7.6" height="13.73" fill="url(#stripes)"/>
<rect x="111.35" y="491.65" width="6.8" height="12.93" fill="none" stroke="#b00a2a" stroke-width="0.8"/>
<line x1="110.95" y1="501.75" x2="118.55" y2="501.75" stroke="#6a0414" stroke-width="1.4" />
<rect x="113.75" y="498.6" width="2" height="1.8" fill="#2a060c"/>
<rect x="113.75" y="501.6" width="2" height="1.8" fill="#2a060c"/>
<text transform="translate(80.4,545.75) rotate(-45)" x="0" y="0" font-size="9" text-anchor="end" fill="#231f20" stroke="#231f20" stroke-width="0.18">Ctl</text>
<text transform="translate(93.15,545.75) rotate(-45)" x="0" y="0" font-size="9" text-anchor="end" fill="#231f20" stroke="#231f20" stroke-width="0.18">0</text>
<text transform="translate(106,545.75) rotate(-45)" x="0" y="0" font-size="9" text-anchor="end" fill="#231f20" stroke="#231f20" stroke-width="0.18">3 M</text>
<text transform="translate(119.15,545.75) rotate(-45)" x="0" y="0" font-size="9" text-anchor="end" fill="#231f20" stroke="#231f20" stroke-width="0.18">12 M</text>
<text transform="translate(40.4,527.37) rotate(-90)" x="0" y="0" font-size="11.9" fill="#231f20" stroke="#231f20" stroke-width="0.5" textLength="64.93" lengthAdjust="spacingAndGlyphs">Leukocytes count</text>
<text transform="translate(40.4,459.09) rotate(-90)" x="0" y="0" font-size="11.9" fill="#231f20" stroke="#231f20" stroke-width="0.5" textLength="40.18" lengthAdjust="spacingAndGlyphs">(×10³/µL)</text>
<text x="68.2" y="429.3" font-size="9.5" font-style="italic" fill="#231f20" stroke="#231f20" stroke-width="0.18" text-anchor="start">0.0021</text>
<path d="M75.9,437.2 V433 H88.4 V437.2" fill="none" stroke="#333" stroke-width="1"/>
<text x="81.5" y="448" font-size="9.5" font-style="italic" fill="#476c9e" stroke="#476c9e" stroke-width="0.18" text-anchor="start">0.0352</text>
<path d="M88.9,455.5 V451.3 H101.4 V455.5" fill="none" stroke="#476c9e" stroke-width="1"/>
<text x="151" y="411.3" font-size="16" font-weight="bold" text-anchor="end" fill="#111" stroke="#111" stroke-width="0.75">G</text>
<line x1="196.7" y1="414" x2="196.7" y2="532.65" stroke="#1c1c1c" stroke-width="1.8" />
<line x1="192.2" y1="531.75" x2="196.7" y2="531.75" stroke="#1c1c1c" stroke-width="1.3" />
<text x="188.6" y="535.05" font-size="9.5" text-anchor="end" fill="#231f20" stroke="#231f20" stroke-width="0.18" >0</text>
<line x1="192.2" y1="494.25" x2="196.7" y2="494.25" stroke="#1c1c1c" stroke-width="1.3" />
<text x="188.6" y="497.55" font-size="9.5" text-anchor="end" fill="#231f20" stroke="#231f20" stroke-width="0.18" >5</text>
<line x1="192.2" y1="456.75" x2="196.7" y2="456.75" stroke="#1c1c1c" stroke-width="1.3" />
<text x="188.6" y="460.05" font-size="9.5" text-anchor="end" fill="#231f20" stroke="#231f20" stroke-width="0.18" >10</text>
<line x1="192.2" y1="419.25" x2="196.7" y2="419.25" stroke="#1c1c1c" stroke-width="1.3" />
<text x="188.6" y="422.55" font-size="9.5" text-anchor="end" fill="#231f20" stroke="#231f20" stroke-width="0.18" >15</text>
<line x1="195.8" y1="531.75" x2="310.2" y2="531.75" stroke="#1c1c1c" stroke-width="1.8" />
<line x1="206.25" y1="531.75" x2="206.25" y2="536.05" stroke="#1c1c1c" stroke-width="1.3" />
<line x1="253.75" y1="531.75" x2="253.75" y2="536.05" stroke="#1c1c1c" stroke-width="1.3" />
<line x1="300.75" y1="531.75" x2="300.75" y2="536.05" stroke="#1c1c1c" stroke-width="1.3" />
<text x="206.25" y="548.8" font-size="9" text-anchor="middle" fill="#231f20" stroke="#231f20" stroke-width="0.18" >0</text>
<text x="253.75" y="548.8" font-size="9" text-anchor="middle" fill="#231f20" stroke="#231f20" stroke-width="0.18" >3 M</text>
<text x="300.75" y="548.8" font-size="9" text-anchor="middle" fill="#231f20" stroke="#231f20" stroke-width="0.18" >12 M</text>
<polyline points="206.25,513 253.75,504.98" fill="none" stroke="#d4cbd0" stroke-width="0.95"/>
<circle cx="206.25" cy="513" r="0.95" fill="#d4cbd0"/>
<circle cx="253.75" cy="504.98" r="0.95" fill="#d4cbd0"/>
<polyline points="206.25,514.5 253.75,506.25 300.75,500.02" fill="none" stroke="#a09bc8" stroke-width="0.95"/>
<circle cx="206.25" cy="514.5" r="0.95" fill="#a09bc8"/>
<circle cx="253.75" cy="506.25" r="0.95" fill="#a09bc8"/>
<circle cx="300.75" cy="500.02" r="0.95" fill="#a09bc8"/>
<polyline points="206.25,497.48 253.75,471.23 300.75,501.23" fill="none" stroke="#4fb0dc" stroke-width="0.95"/>
<circle cx="206.25" cy="497.48" r="0.95" fill="#4fb0dc"/>
<circle cx="253.75" cy="471.23" r="0.95" fill="#4fb0dc"/>
<circle cx="300.75" cy="501.23" r="0.95" fill="#4fb0dc"/>
<polyline points="206.25,521.25 253.75,507.98 300.75,504.52" fill="none" stroke="#eea846" stroke-width="0.95"/>
<circle cx="206.25" cy="521.25" r="0.95" fill="#eea846"/>
<circle cx="253.75" cy="507.98" r="0.95" fill="#eea846"/>
<circle cx="300.75" cy="504.52" r="0.95" fill="#eea846"/>
<polyline points="206.25,512.48 253.75,500.02 300.75,498.23" fill="none" stroke="#233f75" stroke-width="0.95"/>
<circle cx="206.25" cy="512.48" r="0.95" fill="#233f75"/>
<circle cx="253.75" cy="500.02" r="0.95" fill="#233f75"/>
<circle cx="300.75" cy="498.23" r="0.95" fill="#233f75"/>
<polyline points="206.25,496.27 253.75,456.23 300.75,466.27" fill="none" stroke="#45a552" stroke-width="0.95"/>
<circle cx="206.25" cy="496.27" r="0.95" fill="#45a552"/>
<circle cx="253.75" cy="456.23" r="0.95" fill="#45a552"/>
<circle cx="300.75" cy="466.27" r="0.95" fill="#45a552"/>
<polyline points="206.25,486.23 253.75,486.75 300.75,504.52" fill="none" stroke="#4f3428" stroke-width="0.95"/>
<circle cx="206.25" cy="486.23" r="0.95" fill="#4f3428"/>
<circle cx="253.75" cy="486.75" r="0.95" fill="#4f3428"/>
<circle cx="300.75" cy="504.52" r="0.95" fill="#4f3428"/>
<line x1="313.2" y1="432.5" x2="324" y2="432.5" stroke="#a09bc8" stroke-width="1.0" />
<circle cx="318.6" cy="432.5" r="0.9" fill="#a09bc8"/>
<text x="327.3" y="435" font-size="9.6" fill="#231f20" stroke="#231f20" stroke-width="0.18">Pt</text><text x="338.3" y="435" font-size="9.6" fill="#231f20" stroke="#231f20" stroke-width="0.18">1</text>
<line x1="313.2" y1="445.9" x2="324" y2="445.9" stroke="#4fb0dc" stroke-width="1.0" />
<circle cx="318.6" cy="445.9" r="0.9" fill="#4fb0dc"/>
<text x="327.3" y="448.4" font-size="9.6" fill="#231f20" stroke="#231f20" stroke-width="0.18">Pt</text><text x="338.3" y="448.4" font-size="9.6" fill="#231f20" stroke="#231f20" stroke-width="0.18">2</text>
<line x1="313.2" y1="459.4" x2="324" y2="459.4" stroke="#233f75" stroke-width="1.0" />
<circle cx="318.6" cy="459.4" r="0.9" fill="#233f75"/>
<text x="327.3" y="461.9" font-size="9.6" fill="#231f20" stroke="#231f20" stroke-width="0.18">Pt</text><text x="338.3" y="461.9" font-size="9.6" fill="#231f20" stroke="#231f20" stroke-width="0.18">3</text>
<line x1="313.2" y1="472.75" x2="324" y2="472.75" stroke="#45a552" stroke-width="1.0" />
<circle cx="318.6" cy="472.75" r="0.9" fill="#45a552"/>
<text x="327.3" y="475.25" font-size="9.6" fill="#231f20" stroke="#231f20" stroke-width="0.18">Pt</text><text x="338.3" y="475.25" font-size="9.6" fill="#231f20" stroke="#231f20" stroke-width="0.18">4</text>
<line x1="313.2" y1="486.25" x2="324" y2="486.25" stroke="#4f3428" stroke-width="1.0" />
<circle cx="318.6" cy="486.25" r="0.9" fill="#4f3428"/>
<text x="327.3" y="488.75" font-size="9.6" fill="#231f20" stroke="#231f20" stroke-width="0.18">Pt</text><text x="338.3" y="488.75" font-size="9.6" fill="#231f20" stroke="#231f20" stroke-width="0.18">5</text>
<line x1="313.2" y1="499.6" x2="324" y2="499.6" stroke="#eea846" stroke-width="1.0" />
<circle cx="318.6" cy="499.6" r="0.9" fill="#eea846"/>
<text x="327.3" y="502.1" font-size="9.6" fill="#231f20" stroke="#231f20" stroke-width="0.18">Pt</text><text x="338.3" y="502.1" font-size="9.6" fill="#231f20" stroke="#231f20" stroke-width="0.18">6</text>
<line x1="313.2" y1="513.1" x2="324" y2="513.1" stroke="#d4cbd0" stroke-width="1.0" />
<circle cx="318.6" cy="513.1" r="0.9" fill="#d4cbd0"/>
<text x="327.3" y="515.6" font-size="9.6" fill="#231f20" stroke="#231f20" stroke-width="0.18">Pt</text><text x="338.3" y="515.6" font-size="9.6" fill="#231f20" stroke="#231f20" stroke-width="0.18">7</text>
<text transform="translate(169.4,527.68) rotate(-90)" x="0" y="0" font-size="11.9" fill="#231f20" stroke="#231f20" stroke-width="0.5" textLength="66.05" lengthAdjust="spacingAndGlyphs">Leukocytes count</text>
<text transform="translate(169.4,458.29) rotate(-90)" x="0" y="0" font-size="11.9" fill="#231f20" stroke="#231f20" stroke-width="0.5" textLength="40.08" lengthAdjust="spacingAndGlyphs">(×10³/µL)</text>
<text x="371" y="411.3" font-size="16" font-weight="bold" text-anchor="end" fill="#111" stroke="#111" stroke-width="0.75">H</text>
<line x1="421.5" y1="415.5" x2="421.5" y2="532.4" stroke="#1c1c1c" stroke-width="1.8" />
<line x1="417" y1="531.5" x2="421.5" y2="531.5" stroke="#1c1c1c" stroke-width="1.3" />
<text x="413.2" y="534.8" font-size="9.5" text-anchor="end" fill="#231f20" stroke="#231f20" stroke-width="0.18" >0</text>
<line x1="417" y1="494" x2="421.5" y2="494" stroke="#1c1c1c" stroke-width="1.3" />
<text x="413.2" y="497.3" font-size="9.5" text-anchor="end" fill="#231f20" stroke="#231f20" stroke-width="0.18" >5</text>
<line x1="417" y1="456.5" x2="421.5" y2="456.5" stroke="#1c1c1c" stroke-width="1.3" />
<text x="413.2" y="459.8" font-size="9.5" text-anchor="end" fill="#231f20" stroke="#231f20" stroke-width="0.18" >10</text>
<line x1="417" y1="419" x2="421.5" y2="419" stroke="#1c1c1c" stroke-width="1.3" />
<text x="413.2" y="422.3" font-size="9.5" text-anchor="end" fill="#231f20" stroke="#231f20" stroke-width="0.18" >15</text>
<line x1="420.6" y1="531.5" x2="501" y2="531.5" stroke="#1c1c1c" stroke-width="1.8" />
<line x1="421.25" y1="531.5" x2="421.25" y2="535.8" stroke="#1c1c1c" stroke-width="1.3" />
<line x1="440.19" y1="531.5" x2="440.19" y2="535.8" stroke="#1c1c1c" stroke-width="1.3" />
<line x1="459.13" y1="531.5" x2="459.13" y2="535.8" stroke="#1c1c1c" stroke-width="1.3" />
<line x1="478.07" y1="531.5" x2="478.07" y2="535.8" stroke="#1c1c1c" stroke-width="1.3" />
<line x1="497.01" y1="531.5" x2="497.01" y2="535.8" stroke="#1c1c1c" stroke-width="1.3" />
<text x="421.25" y="548.2" font-size="9.7" text-anchor="middle" fill="#231f20" stroke="#231f20" stroke-width="0.18" >0</text>
<text x="440.19" y="548.2" font-size="9.7" text-anchor="middle" fill="#231f20" stroke="#231f20" stroke-width="0.18" >20</text>
<text x="459.13" y="548.2" font-size="9.7" text-anchor="middle" fill="#231f20" stroke="#231f20" stroke-width="0.18" >40</text>
<text x="478.07" y="548.2" font-size="9.7" text-anchor="middle" fill="#231f20" stroke="#231f20" stroke-width="0.18" >60</text>
<text x="497.01" y="548.2" font-size="9.7" text-anchor="middle" fill="#231f20" stroke="#231f20" stroke-width="0.18" >80</text>
<text x="412.41" y="565.9" font-size="11.9" fill="#231f20" stroke="#231f20" stroke-width="0.5" textLength="61.34" lengthAdjust="spacingAndGlyphs">[Plasma 1,5-AG]</text>
<text x="478" y="565.9" font-size="11.9" fill="#231f20" stroke="#231f20" stroke-width="0.5" textLength="31.31" lengthAdjust="spacingAndGlyphs">(µg/ml)</text>
<text transform="translate(394.2,527.67) rotate(-90)" x="0" y="0" font-size="11.9" fill="#231f20" stroke="#231f20" stroke-width="0.5" textLength="65.44" lengthAdjust="spacingAndGlyphs">Leukocytes count</text>
<text transform="translate(394.2,458.88) rotate(-90)" x="0" y="0" font-size="11.9" fill="#231f20" stroke="#231f20" stroke-width="0.5" textLength="39.97" lengthAdjust="spacingAndGlyphs">(×10³/µL)</text>
<text x="440.3" y="443" font-size="9.6" font-style="italic" fill="#231f20" stroke="#231f20" stroke-width="0.18">P</text>
<rect x="448.7" y="438" width="6.3" height="1.15" fill="#231f20"/>
<rect x="448.7" y="440.8" width="6.3" height="1.15" fill="#231f20"/>
<text x="457.2" y="443" font-size="9.8" fill="#231f20" stroke="#231f20" stroke-width="0.18">.0473</text>
<line x1="422.05" y1="491.75" x2="489.43" y2="512.98" stroke="#555" stroke-width="1" />
<rect x="422.24" y="466.1" width="1.8" height="1.8" fill="#1d2b4f"/>
<rect x="429.63" y="471.12" width="1.8" height="1.8" fill="#1d2b4f"/>
<rect x="488.53" y="486.12" width="1.8" height="1.8" fill="#1d2b4f"/>
<rect x="461.64" y="497.08" width="1.8" height="1.8" fill="#1d2b4f"/>
<rect x="434.08" y="497.38" width="1.8" height="1.8" fill="#1d2b4f"/>
<rect x="436.07" y="495.88" width="1.8" height="1.8" fill="#1d2b4f"/>
<rect x="425.37" y="498.58" width="1.8" height="1.8" fill="#1d2b4f"/>
<rect x="424.9" y="499.85" width="1.8" height="1.8" fill="#1d2b4f"/>
<rect x="424.61" y="504.12" width="1.8" height="1.8" fill="#1d2b4f"/>
<rect x="431.15" y="502.85" width="1.8" height="1.8" fill="#1d2b4f"/>
<rect x="432.38" y="504.88" width="1.8" height="1.8" fill="#1d2b4f"/>
<rect x="426.6" y="507.88" width="1.8" height="1.8" fill="#1d2b4f"/>
<rect x="464.57" y="511.1" width="1.8" height="1.8" fill="#1d2b4f"/>
<rect x="467.13" y="514.62" width="1.8" height="1.8" fill="#1d2b4f"/>
<rect x="473.38" y="512.83" width="1.8" height="1.8" fill="#1d2b4f"/>
<rect x="461.07" y="520.33" width="1.8" height="1.8" fill="#1d2b4f"/>
<text x="21.5" y="601.3" font-size="16" font-weight="bold" text-anchor="end" fill="#111" stroke="#111" stroke-width="0.75">I</text>
<line x1="67.4" y1="605" x2="67.4" y2="722.65" stroke="#1c1c1c" stroke-width="1.8" />
<line x1="62.9" y1="721.75" x2="67.4" y2="721.75" stroke="#1c1c1c" stroke-width="1.3" />
<text x="58.6" y="725.05" font-size="9.5" text-anchor="end" fill="#231f20" stroke="#231f20" stroke-width="0.18" >0</text>
<line x1="62.9" y1="693.63" x2="67.4" y2="693.63" stroke="#1c1c1c" stroke-width="1.3" />
<text x="58.6" y="696.93" font-size="9.5" text-anchor="end" fill="#231f20" stroke="#231f20" stroke-width="0.18" >2</text>
<line x1="62.9" y1="665.51" x2="67.4" y2="665.51" stroke="#1c1c1c" stroke-width="1.3" />
<text x="58.6" y="668.81" font-size="9.5" text-anchor="end" fill="#231f20" stroke="#231f20" stroke-width="0.18" >4</text>
<line x1="62.9" y1="637.39" x2="67.4" y2="637.39" stroke="#1c1c1c" stroke-width="1.3" />
<text x="58.6" y="640.69" font-size="9.5" text-anchor="end" fill="#231f20" stroke="#231f20" stroke-width="0.18" >6</text>
<line x1="62.9" y1="609.27" x2="67.4" y2="609.27" stroke="#1c1c1c" stroke-width="1.3" />
<text x="58.6" y="612.57" font-size="9.5" text-anchor="end" fill="#231f20" stroke="#231f20" stroke-width="0.18" >8</text>
<line x1="66.5" y1="721.75" x2="123.3" y2="721.75" stroke="#1c1c1c" stroke-width="1.8" />
<line x1="76" y1="721.75" x2="76" y2="726.05" stroke="#1c1c1c" stroke-width="1.3" />
<line x1="88.75" y1="721.75" x2="88.75" y2="726.05" stroke="#1c1c1c" stroke-width="1.3" />
<line x1="101.6" y1="721.75" x2="101.6" y2="726.05" stroke="#1c1c1c" stroke-width="1.3" />
<line x1="114.75" y1="721.75" x2="114.75" y2="726.05" stroke="#1c1c1c" stroke-width="1.3" />
<line x1="76.5" y1="620.52" x2="76.5" y2="674.93" stroke="#262626" stroke-width="1.1" />
<line x1="76.5" y1="697.57" x2="76.5" y2="697.57" stroke="#262626" stroke-width="1.1" />
<line x1="73.2" y1="620.52" x2="78.8" y2="620.52" stroke="#222" stroke-width="1.4" />
<line x1="73.2" y1="697.57" x2="78.8" y2="697.57" stroke="#222" stroke-width="1.4" />
<rect x="72" y="674.93" width="8" height="22.64" fill="url(#stripes)"/>
<rect x="72.4" y="675.33" width="7.2" height="21.84" fill="none" stroke="#b00a2a" stroke-width="0.8"/>
<line x1="72" y1="690.82" x2="80" y2="690.82" stroke="#6a0414" stroke-width="1.4" />
<rect x="75" y="681.48" width="2" height="1.8" fill="#2a060c"/>
<rect x="75" y="689.92" width="2" height="1.8" fill="#2a060c"/>
<rect x="75" y="670.23" width="2" height="1.8" fill="#2a060c"/>
<line x1="88.5" y1="679.99" x2="88.5" y2="681.68" stroke="#262626" stroke-width="1.1" />
<line x1="88.5" y1="705.02" x2="88.5" y2="708.25" stroke="#262626" stroke-width="1.1" />
<line x1="85.95" y1="679.99" x2="91.55" y2="679.99" stroke="#222" stroke-width="1.4" />
<line x1="85.95" y1="708.25" x2="91.55" y2="708.25" stroke="#222" stroke-width="1.4" />
<rect x="84.95" y="681.68" width="7.6" height="23.34" fill="#c9102c"/>
<rect x="85.35" y="682.08" width="6.8" height="22.54" fill="none" stroke="#b00a2a" stroke-width="0.8"/>
<line x1="84.95" y1="699.25" x2="92.55" y2="699.25" stroke="#6a0414" stroke-width="1.4" />
<rect x="87.75" y="689.92" width="2" height="1.8" fill="#2a060c"/>
<rect x="87.75" y="702.57" width="2" height="1.8" fill="#2a060c"/>
<line x1="101.5" y1="659.46" x2="101.5" y2="663.26" stroke="#262626" stroke-width="1.1" />
<line x1="101.5" y1="702.07" x2="101.5" y2="703.05" stroke="#262626" stroke-width="1.1" />
<line x1="98.8" y1="659.46" x2="104.4" y2="659.46" stroke="#222" stroke-width="1.4" />
<line x1="98.8" y1="703.05" x2="104.4" y2="703.05" stroke="#222" stroke-width="1.4" />
<rect x="97.7" y="663.26" width="7.8" height="38.81" fill="url(#stripes)"/>
<rect x="98.1" y="663.66" width="7" height="38.01" fill="none" stroke="#b00a2a" stroke-width="0.8"/>
<line x1="97.7" y1="696.3" x2="105.5" y2="696.3" stroke="#6a0414" stroke-width="1.4" />
<rect x="100.6" y="699.76" width="2" height="1.8" fill="#2a060c"/>
<rect x="100.6" y="671.64" width="2" height="1.8" fill="#2a060c"/>
<line x1="114.5" y1="675.77" x2="114.5" y2="689.27" stroke="#262626" stroke-width="1.1" />
<line x1="114.5" y1="706.28" x2="114.5" y2="706.28" stroke="#262626" stroke-width="1.1" />
<line x1="111.95" y1="675.77" x2="117.55" y2="675.77" stroke="#222" stroke-width="1.4" />
<line x1="111.95" y1="706.28" x2="117.55" y2="706.28" stroke="#222" stroke-width="1.4" />
<rect x="110.95" y="689.27" width="7.6" height="17.01" fill="url(#stripes)"/>
<rect x="111.35" y="689.67" width="6.8" height="16.21" fill="none" stroke="#b00a2a" stroke-width="0.8"/>
<line x1="110.95" y1="703.75" x2="118.55" y2="703.75" stroke="#6a0414" stroke-width="1.4" />
<rect x="113.75" y="692.73" width="2" height="1.8" fill="#2a060c"/>
<rect x="113.75" y="703.98" width="2" height="1.8" fill="#2a060c"/>
<text transform="translate(80.4,735.75) rotate(-45)" x="0" y="0" font-size="9" text-anchor="end" fill="#231f20" stroke="#231f20" stroke-width="0.18">Ctl</text>
<text transform="translate(93.15,735.75) rotate(-45)" x="0" y="0" font-size="9" text-anchor="end" fill="#231f20" stroke="#231f20" stroke-width="0.18">0</text>
<text transform="translate(106,735.75) rotate(-45)" x="0" y="0" font-size="9" text-anchor="end" fill="#231f20" stroke="#231f20" stroke-width="0.18">3 M</text>
<text transform="translate(119.15,735.75) rotate(-45)" x="0" y="0" font-size="9" text-anchor="end" fill="#231f20" stroke="#231f20" stroke-width="0.18">12 M</text>
<text transform="translate(45.6,721.48) rotate(-90)" x="0" y="0" font-size="11.9" fill="#231f20" stroke="#231f20" stroke-width="0.5" textLength="72.55" lengthAdjust="spacingAndGlyphs">Lymphocytes count</text>
<text transform="translate(45.6,645.59) rotate(-90)" x="0" y="0" font-size="11.9" fill="#231f20" stroke="#231f20" stroke-width="0.5" textLength="40.08" lengthAdjust="spacingAndGlyphs">(×10³/µL)</text>
<text x="152" y="601.3" font-size="16" font-weight="bold" text-anchor="end" fill="#111" stroke="#111" stroke-width="0.75">J</text>
<line x1="196.7" y1="603.8" x2="196.7" y2="722.65" stroke="#1c1c1c" stroke-width="1.8" />
<line x1="192.2" y1="721.75" x2="196.7" y2="721.75" stroke="#1c1c1c" stroke-width="1.3" />
<text x="188.6" y="725.05" font-size="9.5" text-anchor="end" fill="#231f20" stroke="#231f20" stroke-width="0.18" >0</text>
<line x1="192.2" y1="698.95" x2="196.7" y2="698.95" stroke="#1c1c1c" stroke-width="1.3" />
<text x="188.6" y="702.25" font-size="9.5" text-anchor="end" fill="#231f20" stroke="#231f20" stroke-width="0.18" >1</text>
<line x1="192.2" y1="676.15" x2="196.7" y2="676.15" stroke="#1c1c1c" stroke-width="1.3" />
<text x="188.6" y="679.45" font-size="9.5" text-anchor="end" fill="#231f20" stroke="#231f20" stroke-width="0.18" >2</text>
<line x1="192.2" y1="653.35" x2="196.7" y2="653.35" stroke="#1c1c1c" stroke-width="1.3" />
<text x="188.6" y="656.65" font-size="9.5" text-anchor="end" fill="#231f20" stroke="#231f20" stroke-width="0.18" >3</text>
<line x1="192.2" y1="630.55" x2="196.7" y2="630.55" stroke="#1c1c1c" stroke-width="1.3" />
<text x="188.6" y="633.85" font-size="9.5" text-anchor="end" fill="#231f20" stroke="#231f20" stroke-width="0.18" >4</text>
<line x1="192.2" y1="607.75" x2="196.7" y2="607.75" stroke="#1c1c1c" stroke-width="1.3" />
<text x="188.6" y="611.05" font-size="9.5" text-anchor="end" fill="#231f20" stroke="#231f20" stroke-width="0.18" >5</text>
<line x1="195.8" y1="721.75" x2="310.3" y2="721.75" stroke="#1c1c1c" stroke-width="1.8" />
<line x1="206.25" y1="721.75" x2="206.25" y2="726.05" stroke="#1c1c1c" stroke-width="1.3" />
<line x1="253.75" y1="721.75" x2="253.75" y2="726.05" stroke="#1c1c1c" stroke-width="1.3" />
<line x1="301.25" y1="721.75" x2="301.25" y2="726.05" stroke="#1c1c1c" stroke-width="1.3" />
<text x="206.25" y="738.8" font-size="9" text-anchor="middle" fill="#231f20" stroke="#231f20" stroke-width="0.18" >0</text>
<text x="253.75" y="738.8" font-size="9" text-anchor="middle" fill="#231f20" stroke="#231f20" stroke-width="0.18" >3 M</text>
<text x="301.25" y="738.8" font-size="9" text-anchor="middle" fill="#231f20" stroke="#231f20" stroke-width="0.18" >12 M</text>
<polyline points="206.25,685.5 253.75,683.67" fill="none" stroke="#d4cbd0" stroke-width="0.95"/>
<circle cx="206.25" cy="685.5" r="0.95" fill="#d4cbd0"/>
<circle cx="253.75" cy="683.67" r="0.95" fill="#d4cbd0"/>
<polyline points="206.25,693.71 253.75,690.51 301.25,693.71" fill="none" stroke="#a09bc8" stroke-width="0.95"/>
<circle cx="206.25" cy="693.71" r="0.95" fill="#a09bc8"/>
<circle cx="253.75" cy="690.51" r="0.95" fill="#a09bc8"/>
<circle cx="301.25" cy="693.71" r="0.95" fill="#a09bc8"/>
<polyline points="206.25,653.58 253.75,625.31 301.25,675.69" fill="none" stroke="#4fb0dc" stroke-width="0.95"/>
<circle cx="206.25" cy="653.58" r="0.95" fill="#4fb0dc"/>
<circle cx="253.75" cy="625.31" r="0.95" fill="#4fb0dc"/>
<circle cx="301.25" cy="675.69" r="0.95" fill="#4fb0dc"/>
<polyline points="206.25,699.86 253.75,688.69 301.25,696.9" fill="none" stroke="#eea846" stroke-width="0.95"/>
<circle cx="206.25" cy="699.86" r="0.95" fill="#eea846"/>
<circle cx="253.75" cy="688.69" r="0.95" fill="#eea846"/>
<circle cx="301.25" cy="696.9" r="0.95" fill="#eea846"/>
<polyline points="206.25,694.85 253.75,679.8 301.25,692.34" fill="none" stroke="#233f75" stroke-width="0.95"/>
<circle cx="206.25" cy="694.85" r="0.95" fill="#233f75"/>
<circle cx="253.75" cy="679.8" r="0.95" fill="#233f75"/>
<circle cx="301.25" cy="692.34" r="0.95" fill="#233f75"/>
<polyline points="206.25,656.54 253.75,620.52 301.25,647.42" fill="none" stroke="#45a552" stroke-width="0.95"/>
<circle cx="206.25" cy="656.54" r="0.95" fill="#45a552"/>
<circle cx="253.75" cy="620.52" r="0.95" fill="#45a552"/>
<circle cx="301.25" cy="647.42" r="0.95" fill="#45a552"/>
<polyline points="206.25,671.13 253.75,673.64 301.25,696.9" fill="none" stroke="#4f3428" stroke-width="0.95"/>
<circle cx="206.25" cy="671.13" r="0.95" fill="#4f3428"/>
<circle cx="253.75" cy="673.64" r="0.95" fill="#4f3428"/>
<circle cx="301.25" cy="696.9" r="0.95" fill="#4f3428"/>
<line x1="313.2" y1="622.5" x2="324" y2="622.5" stroke="#a09bc8" stroke-width="1.0" />
<circle cx="318.6" cy="622.5" r="0.9" fill="#a09bc8"/>
<text x="327.3" y="625" font-size="9.6" fill="#231f20" stroke="#231f20" stroke-width="0.18">Pt</text><text x="338.3" y="625" font-size="9.6" fill="#231f20" stroke="#231f20" stroke-width="0.18">1</text>
<line x1="313.2" y1="635.9" x2="324" y2="635.9" stroke="#4fb0dc" stroke-width="1.0" />
<circle cx="318.6" cy="635.9" r="0.9" fill="#4fb0dc"/>
<text x="327.3" y="638.4" font-size="9.6" fill="#231f20" stroke="#231f20" stroke-width="0.18">Pt</text><text x="338.3" y="638.4" font-size="9.6" fill="#231f20" stroke="#231f20" stroke-width="0.18">2</text>
<line x1="313.2" y1="649.4" x2="324" y2="649.4" stroke="#233f75" stroke-width="1.0" />
<circle cx="318.6" cy="649.4" r="0.9" fill="#233f75"/>
<text x="327.3" y="651.9" font-size="9.6" fill="#231f20" stroke="#231f20" stroke-width="0.18">Pt</text><text x="338.3" y="651.9" font-size="9.6" fill="#231f20" stroke="#231f20" stroke-width="0.18">3</text>
<line x1="313.2" y1="662.75" x2="324" y2="662.75" stroke="#45a552" stroke-width="1.0" />
<circle cx="318.6" cy="662.75" r="0.9" fill="#45a552"/>
<text x="327.3" y="665.25" font-size="9.6" fill="#231f20" stroke="#231f20" stroke-width="0.18">Pt</text><text x="338.3" y="665.25" font-size="9.6" fill="#231f20" stroke="#231f20" stroke-width="0.18">4</text>
<line x1="313.2" y1="676.25" x2="324" y2="676.25" stroke="#4f3428" stroke-width="1.0" />
<circle cx="318.6" cy="676.25" r="0.9" fill="#4f3428"/>
<text x="327.3" y="678.75" font-size="9.6" fill="#231f20" stroke="#231f20" stroke-width="0.18">Pt</text><text x="338.3" y="678.75" font-size="9.6" fill="#231f20" stroke="#231f20" stroke-width="0.18">5</text>
<line x1="313.2" y1="689.6" x2="324" y2="689.6" stroke="#eea846" stroke-width="1.0" />
<circle cx="318.6" cy="689.6" r="0.9" fill="#eea846"/>
<text x="327.3" y="692.1" font-size="9.6" fill="#231f20" stroke="#231f20" stroke-width="0.18">Pt</text><text x="338.3" y="692.1" font-size="9.6" fill="#231f20" stroke="#231f20" stroke-width="0.18">6</text>
<line x1="313.2" y1="703.1" x2="324" y2="703.1" stroke="#d4cbd0" stroke-width="1.0" />
<circle cx="318.6" cy="703.1" r="0.9" fill="#d4cbd0"/>
<text x="327.3" y="705.6" font-size="9.6" fill="#231f20" stroke="#231f20" stroke-width="0.18">Pt</text><text x="338.3" y="705.6" font-size="9.6" fill="#231f20" stroke="#231f20" stroke-width="0.18">7</text>
<text transform="translate(177.1,721.18) rotate(-90)" x="0" y="0" font-size="11.9" fill="#231f20" stroke="#231f20" stroke-width="0.5" textLength="73.16" lengthAdjust="spacingAndGlyphs">Lymphocytes count</text>
<text transform="translate(177.1,644.58) rotate(-90)" x="0" y="0" font-size="11.9" fill="#231f20" stroke="#231f20" stroke-width="0.5" textLength="39.77" lengthAdjust="spacingAndGlyphs">(×10³/µL)</text>
<text x="371" y="601.3" font-size="16" font-weight="bold" text-anchor="end" fill="#111" stroke="#111" stroke-width="0.75">K</text>
<line x1="421.5" y1="605.3" x2="421.5" y2="722.5" stroke="#1c1c1c" stroke-width="1.8" />
<line x1="417" y1="721.6" x2="421.5" y2="721.6" stroke="#1c1c1c" stroke-width="1.3" />
<text x="413.2" y="724.9" font-size="9.5" text-anchor="end" fill="#231f20" stroke="#231f20" stroke-width="0.18" >0</text>
<line x1="417" y1="699.1" x2="421.5" y2="699.1" stroke="#1c1c1c" stroke-width="1.3" />
<text x="413.2" y="702.4" font-size="9.5" text-anchor="end" fill="#231f20" stroke="#231f20" stroke-width="0.18" >1</text>
<line x1="417" y1="676.6" x2="421.5" y2="676.6" stroke="#1c1c1c" stroke-width="1.3" />
<text x="413.2" y="679.9" font-size="9.5" text-anchor="end" fill="#231f20" stroke="#231f20" stroke-width="0.18" >2</text>
<line x1="417" y1="654.1" x2="421.5" y2="654.1" stroke="#1c1c1c" stroke-width="1.3" />
<text x="413.2" y="657.4" font-size="9.5" text-anchor="end" fill="#231f20" stroke="#231f20" stroke-width="0.18" >3</text>
<line x1="417" y1="631.6" x2="421.5" y2="631.6" stroke="#1c1c1c" stroke-width="1.3" />
<text x="413.2" y="634.9" font-size="9.5" text-anchor="end" fill="#231f20" stroke="#231f20" stroke-width="0.18" >4</text>
<line x1="417" y1="609.1" x2="421.5" y2="609.1" stroke="#1c1c1c" stroke-width="1.3" />
<text x="413.2" y="612.4" font-size="9.5" text-anchor="end" fill="#231f20" stroke="#231f20" stroke-width="0.18" >5</text>
<line x1="420.6" y1="721.6" x2="501" y2="721.6" stroke="#1c1c1c" stroke-width="1.8" />
<line x1="421.25" y1="721.6" x2="421.25" y2="725.9" stroke="#1c1c1c" stroke-width="1.3" />
<line x1="440.19" y1="721.6" x2="440.19" y2="725.9" stroke="#1c1c1c" stroke-width="1.3" />
<line x1="459.13" y1="721.6" x2="459.13" y2="725.9" stroke="#1c1c1c" stroke-width="1.3" />
<line x1="478.07" y1="721.6" x2="478.07" y2="725.9" stroke="#1c1c1c" stroke-width="1.3" />
<line x1="497.01" y1="721.6" x2="497.01" y2="725.9" stroke="#1c1c1c" stroke-width="1.3" />
<text x="421.25" y="738.3" font-size="9.7" text-anchor="middle" fill="#231f20" stroke="#231f20" stroke-width="0.18" >0</text>
<text x="440.19" y="738.3" font-size="9.7" text-anchor="middle" fill="#231f20" stroke="#231f20" stroke-width="0.18" >20</text>
<text x="459.13" y="738.3" font-size="9.7" text-anchor="middle" fill="#231f20" stroke="#231f20" stroke-width="0.18" >40</text>
<text x="478.07" y="738.3" font-size="9.7" text-anchor="middle" fill="#231f20" stroke="#231f20" stroke-width="0.18" >60</text>
<text x="497.01" y="738.3" font-size="9.7" text-anchor="middle" fill="#231f20" stroke="#231f20" stroke-width="0.18" >80</text>
<text x="412.41" y="756" font-size="11.9" fill="#231f20" stroke="#231f20" stroke-width="0.5" textLength="61.34" lengthAdjust="spacingAndGlyphs">[Plasma 1,5-AG]</text>
<text x="478" y="756" font-size="11.9" fill="#231f20" stroke="#231f20" stroke-width="0.5" textLength="31.31" lengthAdjust="spacingAndGlyphs">(µg/ml)</text>
<text transform="translate(400,721.48) rotate(-90)" x="0" y="0" font-size="11.9" fill="#231f20" stroke="#231f20" stroke-width="0.5" textLength="72.45" lengthAdjust="spacingAndGlyphs">Lymphocytes count</text>
<text transform="translate(400,645.38) rotate(-90)" x="0" y="0" font-size="11.9" fill="#231f20" stroke="#231f20" stroke-width="0.5" textLength="39.87" lengthAdjust="spacingAndGlyphs">(×10³/µL)</text>
<text x="440.3" y="628.8" font-size="9.6" font-style="italic" fill="#231f20" stroke="#231f20" stroke-width="0.18">P</text>
<rect x="448.7" y="623.8" width="6.3" height="1.15" fill="#231f20"/>
<rect x="448.7" y="626.6" width="6.3" height="1.15" fill="#231f20"/>
<text x="457.2" y="628.8" font-size="9.8" fill="#231f20" stroke="#231f20" stroke-width="0.18">.3620</text>
<line x1="422.05" y1="672.55" x2="489.43" y2="687.62" stroke="#555" stroke-width="1" />
<rect x="430.29" y="626.2" width="1.8" height="1.8" fill="#1d2b4f"/>
<rect x="420.73" y="620.13" width="1.8" height="1.8" fill="#1d2b4f"/>
<rect x="422.24" y="647.8" width="1.8" height="1.8" fill="#1d2b4f"/>
<rect x="436.07" y="656.35" width="1.8" height="1.8" fill="#1d2b4f"/>
<rect x="461.64" y="653.88" width="1.8" height="1.8" fill="#1d2b4f"/>
<rect x="421.58" y="673.23" width="1.8" height="1.8" fill="#1d2b4f"/>
<rect x="488.53" y="670.98" width="1.8" height="1.8" fill="#1d2b4f"/>
<rect x="432.09" y="675.25" width="1.8" height="1.8" fill="#1d2b4f"/>
<rect x="424.14" y="679.53" width="1.8" height="1.8" fill="#1d2b4f"/>
<rect x="434.08" y="683.12" width="1.8" height="1.8" fill="#1d2b4f"/>
<rect x="473.38" y="684.7" width="1.8" height="1.8" fill="#1d2b4f"/>
<rect x="426.6" y="687.62" width="1.8" height="1.8" fill="#1d2b4f"/>
<rect x="432.09" y="690.1" width="1.8" height="1.8" fill="#1d2b4f"/>
<rect x="425.84" y="691.45" width="1.8" height="1.8" fill="#1d2b4f"/>
<rect x="425.37" y="692.8" width="1.8" height="1.8" fill="#1d2b4f"/>
<rect x="467.13" y="693.25" width="1.8" height="1.8" fill="#1d2b4f"/>
<rect x="464.57" y="695.28" width="1.8" height="1.8" fill="#1d2b4f"/>
<rect x="424.61" y="696.4" width="1.8" height="1.8" fill="#1d2b4f"/>
<rect x="430.86" y="696.4" width="1.8" height="1.8" fill="#1d2b4f"/>
<rect x="461.07" y="699.55" width="1.8" height="1.8" fill="#1d2b4f"/>
<text x="22.3" y="791.3" font-size="16" font-weight="bold" text-anchor="end" fill="#111" stroke="#111" stroke-width="0.75">L</text>
<line x1="67.4" y1="795.75" x2="67.4" y2="912.65" stroke="#1c1c1c" stroke-width="1.8" />
<line x1="62.9" y1="911.75" x2="67.4" y2="911.75" stroke="#1c1c1c" stroke-width="1.3" />
<text x="58.6" y="915.05" font-size="9.5" text-anchor="end" fill="#231f20" stroke="#231f20" stroke-width="0.18" >0.0</text>
<line x1="62.9" y1="874.25" x2="67.4" y2="874.25" stroke="#1c1c1c" stroke-width="1.3" />
<text x="58.6" y="877.55" font-size="9.5" text-anchor="end" fill="#231f20" stroke="#231f20" stroke-width="0.18" >0.5</text>
<line x1="62.9" y1="836.75" x2="67.4" y2="836.75" stroke="#1c1c1c" stroke-width="1.3" />
<text x="58.6" y="840.05" font-size="9.5" text-anchor="end" fill="#231f20" stroke="#231f20" stroke-width="0.18" >1.0</text>
<line x1="62.9" y1="799.25" x2="67.4" y2="799.25" stroke="#1c1c1c" stroke-width="1.3" />
<text x="58.6" y="802.55" font-size="9.5" text-anchor="end" fill="#231f20" stroke="#231f20" stroke-width="0.18" >1.5</text>
<line x1="66.5" y1="911.75" x2="123.3" y2="911.75" stroke="#1c1c1c" stroke-width="1.8" />
<line x1="76" y1="911.75" x2="76" y2="916.05" stroke="#1c1c1c" stroke-width="1.3" />
<line x1="88.75" y1="911.75" x2="88.75" y2="916.05" stroke="#1c1c1c" stroke-width="1.3" />
<line x1="101.6" y1="911.75" x2="101.6" y2="916.05" stroke="#1c1c1c" stroke-width="1.3" />
<line x1="114.75" y1="911.75" x2="114.75" y2="916.05" stroke="#1c1c1c" stroke-width="1.3" />
<line x1="76.5" y1="854" x2="76.5" y2="860" stroke="#262626" stroke-width="1.1" />
<line x1="76.5" y1="874.25" x2="76.5" y2="883.25" stroke="#262626" stroke-width="1.1" />
<line x1="73.2" y1="854" x2="78.8" y2="854" stroke="#222" stroke-width="1.4" />
<line x1="73.2" y1="883.25" x2="78.8" y2="883.25" stroke="#222" stroke-width="1.4" />
<rect x="72" y="860" width="8" height="14.25" fill="url(#stripes)"/>
<rect x="72.4" y="860.4" width="7.2" height="13.45" fill="none" stroke="#b00a2a" stroke-width="0.8"/>
<line x1="72" y1="869" x2="80" y2="869" stroke="#6a0414" stroke-width="1.4" />
<rect x="75" y="865.85" width="2" height="1.8" fill="#2a060c"/>
<rect x="75" y="869.6" width="2" height="1.8" fill="#2a060c"/>
<line x1="88.5" y1="866" x2="88.5" y2="873.5" stroke="#262626" stroke-width="1.1" />
<line x1="88.5" y1="896.75" x2="88.5" y2="900.5" stroke="#262626" stroke-width="1.1" />
<line x1="85.95" y1="866" x2="91.55" y2="866" stroke="#222" stroke-width="1.4" />
<line x1="85.95" y1="900.5" x2="91.55" y2="900.5" stroke="#222" stroke-width="1.4" />
<rect x="84.95" y="873.5" width="7.6" height="23.25" fill="#c9102c"/>
<rect x="85.35" y="873.9" width="6.8" height="22.45" fill="none" stroke="#b00a2a" stroke-width="0.8"/>
<line x1="84.95" y1="892.25" x2="92.55" y2="892.25" stroke="#6a0414" stroke-width="1.4" />
<rect x="87.75" y="882.35" width="2" height="1.8" fill="#2a060c"/>
<rect x="87.75" y="892.1" width="2" height="1.8" fill="#2a060c"/>
<line x1="101.5" y1="841.25" x2="101.5" y2="869.75" stroke="#262626" stroke-width="1.1" />
<line x1="101.5" y1="893.75" x2="101.5" y2="894.5" stroke="#262626" stroke-width="1.1" />
<line x1="98.8" y1="841.25" x2="104.4" y2="841.25" stroke="#222" stroke-width="1.4" />
<line x1="98.8" y1="894.5" x2="104.4" y2="894.5" stroke="#222" stroke-width="1.4" />
<rect x="97.7" y="869.75" width="7.8" height="24" fill="url(#stripes)"/>
<rect x="98.1" y="870.15" width="7" height="23.2" fill="none" stroke="#b00a2a" stroke-width="0.8"/>
<line x1="97.7" y1="888.5" x2="105.5" y2="888.5" stroke="#6a0414" stroke-width="1.4" />
<rect x="100.6" y="879.35" width="2" height="1.8" fill="#2a060c"/>
<rect x="100.6" y="892.1" width="2" height="1.8" fill="#2a060c"/>
<line x1="114.5" y1="827" x2="114.5" y2="868.25" stroke="#262626" stroke-width="1.1" />
<line x1="114.5" y1="890.75" x2="114.5" y2="894.5" stroke="#262626" stroke-width="1.1" />
<line x1="111.95" y1="827" x2="117.55" y2="827" stroke="#222" stroke-width="1.4" />
<line x1="111.95" y1="894.5" x2="117.55" y2="894.5" stroke="#222" stroke-width="1.4" />
<rect x="110.95" y="868.25" width="7.6" height="22.5" fill="url(#stripes)"/>
<rect x="111.35" y="868.65" width="6.8" height="21.7" fill="none" stroke="#b00a2a" stroke-width="0.8"/>
<line x1="110.95" y1="887" x2="118.55" y2="887" stroke="#6a0414" stroke-width="1.4" />
<rect x="113.75" y="879.35" width="2" height="1.8" fill="#2a060c"/>
<text transform="translate(80.4,925.75) rotate(-45)" x="0" y="0" font-size="9" text-anchor="end" fill="#231f20" stroke="#231f20" stroke-width="0.18">Ctl</text>
<text transform="translate(93.15,925.75) rotate(-45)" x="0" y="0" font-size="9" text-anchor="end" fill="#231f20" stroke="#231f20" stroke-width="0.18">0</text>
<text transform="translate(106,925.75) rotate(-45)" x="0" y="0" font-size="9" text-anchor="end" fill="#231f20" stroke="#231f20" stroke-width="0.18">3 M</text>
<text transform="translate(119.15,925.75) rotate(-45)" x="0" y="0" font-size="9" text-anchor="end" fill="#231f20" stroke="#231f20" stroke-width="0.18">12 M</text>
<text transform="translate(37,907.38) rotate(-90)" x="0" y="0" font-size="11.9" fill="#231f20" stroke="#231f20" stroke-width="0.5" textLength="64.16" lengthAdjust="spacingAndGlyphs">Monocytes count</text>
<text transform="translate(37,840.18) rotate(-90)" x="0" y="0" font-size="11.9" fill="#231f20" stroke="#231f20" stroke-width="0.5" textLength="39.87" lengthAdjust="spacingAndGlyphs">(×10³/µL)</text>
<text x="151" y="791.3" font-size="16" font-weight="bold" text-anchor="end" fill="#111" stroke="#111" stroke-width="0.75">M</text>
<line x1="196.7" y1="793.75" x2="196.7" y2="912.65" stroke="#1c1c1c" stroke-width="1.8" />
<line x1="192.2" y1="911.75" x2="196.7" y2="911.75" stroke="#1c1c1c" stroke-width="1.3" />
<text x="188.6" y="915.05" font-size="9.5" text-anchor="end" fill="#231f20" stroke="#231f20" stroke-width="0.18" >0.0</text>
<line x1="192.2" y1="873.84" x2="196.7" y2="873.84" stroke="#1c1c1c" stroke-width="1.3" />
<text x="188.6" y="877.13" font-size="9.5" text-anchor="end" fill="#231f20" stroke="#231f20" stroke-width="0.18" >0.5</text>
<line x1="192.2" y1="835.92" x2="196.7" y2="835.92" stroke="#1c1c1c" stroke-width="1.3" />
<text x="188.6" y="839.22" font-size="9.5" text-anchor="end" fill="#231f20" stroke="#231f20" stroke-width="0.18" >1.0</text>
<line x1="192.2" y1="798" x2="196.7" y2="798" stroke="#1c1c1c" stroke-width="1.3" />
<text x="188.6" y="801.3" font-size="9.5" text-anchor="end" fill="#231f20" stroke="#231f20" stroke-width="0.18" >1.5</text>
<line x1="195.8" y1="911.75" x2="310.5" y2="911.75" stroke="#1c1c1c" stroke-width="1.8" />
<line x1="206.25" y1="911.75" x2="206.25" y2="916.05" stroke="#1c1c1c" stroke-width="1.3" />
<line x1="253.75" y1="911.75" x2="253.75" y2="916.05" stroke="#1c1c1c" stroke-width="1.3" />
<line x1="301.25" y1="911.75" x2="301.25" y2="916.05" stroke="#1c1c1c" stroke-width="1.3" />
<text x="206.25" y="928.8" font-size="9" text-anchor="middle" fill="#231f20" stroke="#231f20" stroke-width="0.18" >0</text>
<text x="253.75" y="928.8" font-size="9" text-anchor="middle" fill="#231f20" stroke="#231f20" stroke-width="0.18" >3 M</text>
<text x="301.25" y="928.8" font-size="9" text-anchor="middle" fill="#231f20" stroke="#231f20" stroke-width="0.18" >12 M</text>
<polyline points="206.25,896.58 253.75,892.79" fill="none" stroke="#d4cbd0" stroke-width="0.95"/>
<circle cx="206.25" cy="896.58" r="0.95" fill="#d4cbd0"/>
<circle cx="253.75" cy="892.79" r="0.95" fill="#d4cbd0"/>
<polyline points="206.25,895.07 253.75,892.03 301.25,889.76" fill="none" stroke="#a09bc8" stroke-width="0.95"/>
<circle cx="206.25" cy="895.07" r="0.95" fill="#a09bc8"/>
<circle cx="253.75" cy="892.03" r="0.95" fill="#a09bc8"/>
<circle cx="301.25" cy="889.76" r="0.95" fill="#a09bc8"/>
<polyline points="206.25,865.49 253.75,840.47 301.25,826.06" fill="none" stroke="#4fb0dc" stroke-width="0.95"/>
<circle cx="206.25" cy="865.49" r="0.95" fill="#4fb0dc"/>
<circle cx="253.75" cy="840.47" r="0.95" fill="#4fb0dc"/>
<circle cx="301.25" cy="826.06" r="0.95" fill="#4fb0dc"/>
<polyline points="206.25,900.38 253.75,892.79 301.25,887.48" fill="none" stroke="#eea846" stroke-width="0.95"/>
<circle cx="206.25" cy="900.38" r="0.95" fill="#eea846"/>
<circle cx="253.75" cy="892.79" r="0.95" fill="#eea846"/>
<circle cx="301.25" cy="887.48" r="0.95" fill="#eea846"/>
<polyline points="206.25,892.03 253.75,889 301.25,894.31" fill="none" stroke="#233f75" stroke-width="0.95"/>
<circle cx="206.25" cy="892.03" r="0.95" fill="#233f75"/>
<circle cx="253.75" cy="889" r="0.95" fill="#233f75"/>
<circle cx="301.25" cy="894.31" r="0.95" fill="#233f75"/>
<polyline points="206.25,882.93 253.75,879.14 301.25,880.66" fill="none" stroke="#45a552" stroke-width="0.95"/>
<circle cx="206.25" cy="882.93" r="0.95" fill="#45a552"/>
<circle cx="253.75" cy="879.14" r="0.95" fill="#45a552"/>
<circle cx="301.25" cy="880.66" r="0.95" fill="#45a552"/>
<polyline points="206.25,873.08 253.75,869.29 301.25,887.48" fill="none" stroke="#4f3428" stroke-width="0.95"/>
<circle cx="206.25" cy="873.08" r="0.95" fill="#4f3428"/>
<circle cx="253.75" cy="869.29" r="0.95" fill="#4f3428"/>
<circle cx="301.25" cy="887.48" r="0.95" fill="#4f3428"/>
<line x1="313.2" y1="812.5" x2="324" y2="812.5" stroke="#a09bc8" stroke-width="1.0" />
<circle cx="318.6" cy="812.5" r="0.9" fill="#a09bc8"/>
<text x="327.3" y="815" font-size="9.6" fill="#231f20" stroke="#231f20" stroke-width="0.18">Pt</text><text x="338.3" y="815" font-size="9.6" fill="#231f20" stroke="#231f20" stroke-width="0.18">1</text>
<line x1="313.2" y1="825.9" x2="324" y2="825.9" stroke="#4fb0dc" stroke-width="1.0" />
<circle cx="318.6" cy="825.9" r="0.9" fill="#4fb0dc"/>
<text x="327.3" y="828.4" font-size="9.6" fill="#231f20" stroke="#231f20" stroke-width="0.18">Pt</text><text x="338.3" y="828.4" font-size="9.6" fill="#231f20" stroke="#231f20" stroke-width="0.18">2</text>
<line x1="313.2" y1="839.4" x2="324" y2="839.4" stroke="#233f75" stroke-width="1.0" />
<circle cx="318.6" cy="839.4" r="0.9" fill="#233f75"/>
<text x="327.3" y="841.9" font-size="9.6" fill="#231f20" stroke="#231f20" stroke-width="0.18">Pt</text><text x="338.3" y="841.9" font-size="9.6" fill="#231f20" stroke="#231f20" stroke-width="0.18">3</text>
<line x1="313.2" y1="852.75" x2="324" y2="852.75" stroke="#45a552" stroke-width="1.0" />
<circle cx="318.6" cy="852.75" r="0.9" fill="#45a552"/>
<text x="327.3" y="855.25" font-size="9.6" fill="#231f20" stroke="#231f20" stroke-width="0.18">Pt</text><text x="338.3" y="855.25" font-size="9.6" fill="#231f20" stroke="#231f20" stroke-width="0.18">4</text>
<line x1="313.2" y1="866.25" x2="324" y2="866.25" stroke="#4f3428" stroke-width="1.0" />
<circle cx="318.6" cy="866.25" r="0.9" fill="#4f3428"/>
<text x="327.3" y="868.75" font-size="9.6" fill="#231f20" stroke="#231f20" stroke-width="0.18">Pt</text><text x="338.3" y="868.75" font-size="9.6" fill="#231f20" stroke="#231f20" stroke-width="0.18">5</text>
<line x1="313.2" y1="879.6" x2="324" y2="879.6" stroke="#eea846" stroke-width="1.0" />
<circle cx="318.6" cy="879.6" r="0.9" fill="#eea846"/>
<text x="327.3" y="882.1" font-size="9.6" fill="#231f20" stroke="#231f20" stroke-width="0.18">Pt</text><text x="338.3" y="882.1" font-size="9.6" fill="#231f20" stroke="#231f20" stroke-width="0.18">6</text>
<line x1="313.2" y1="893.1" x2="324" y2="893.1" stroke="#d4cbd0" stroke-width="1.0" />
<circle cx="318.6" cy="893.1" r="0.9" fill="#d4cbd0"/>
<text x="327.3" y="895.6" font-size="9.6" fill="#231f20" stroke="#231f20" stroke-width="0.18">Pt</text><text x="338.3" y="895.6" font-size="9.6" fill="#231f20" stroke="#231f20" stroke-width="0.18">7</text>
<text transform="translate(167.5,907.69) rotate(-90)" x="0" y="0" font-size="11.9" fill="#231f20" stroke="#231f20" stroke-width="0.5" textLength="65.48" lengthAdjust="spacingAndGlyphs">Monocytes count</text>
<text transform="translate(167.5,839.09) rotate(-90)" x="0" y="0" font-size="11.9" fill="#231f20" stroke="#231f20" stroke-width="0.5" textLength="40.18" lengthAdjust="spacingAndGlyphs">(×10³/µL)</text>
<text x="371" y="791.3" font-size="16" font-weight="bold" text-anchor="end" fill="#111" stroke="#111" stroke-width="0.75">N</text>
<line x1="421.5" y1="795.75" x2="421.5" y2="912.65" stroke="#1c1c1c" stroke-width="1.8" />
<line x1="417" y1="911.75" x2="421.5" y2="911.75" stroke="#1c1c1c" stroke-width="1.3" />
<text x="413.2" y="915.05" font-size="9.5" text-anchor="end" fill="#231f20" stroke="#231f20" stroke-width="0.18" >0.0</text>
<line x1="417" y1="874.25" x2="421.5" y2="874.25" stroke="#1c1c1c" stroke-width="1.3" />
<text x="413.2" y="877.55" font-size="9.5" text-anchor="end" fill="#231f20" stroke="#231f20" stroke-width="0.18" >0.5</text>
<line x1="417" y1="836.75" x2="421.5" y2="836.75" stroke="#1c1c1c" stroke-width="1.3" />
<text x="413.2" y="840.05" font-size="9.5" text-anchor="end" fill="#231f20" stroke="#231f20" stroke-width="0.18" >1.0</text>
<line x1="417" y1="799.25" x2="421.5" y2="799.25" stroke="#1c1c1c" stroke-width="1.3" />
<text x="413.2" y="802.55" font-size="9.5" text-anchor="end" fill="#231f20" stroke="#231f20" stroke-width="0.18" >1.5</text>
<line x1="420.6" y1="911.75" x2="501" y2="911.75" stroke="#1c1c1c" stroke-width="1.8" />
<line x1="421.25" y1="911.75" x2="421.25" y2="916.05" stroke="#1c1c1c" stroke-width="1.3" />
<line x1="440.19" y1="911.75" x2="440.19" y2="916.05" stroke="#1c1c1c" stroke-width="1.3" />
<line x1="459.13" y1="911.75" x2="459.13" y2="916.05" stroke="#1c1c1c" stroke-width="1.3" />
<line x1="478.07" y1="911.75" x2="478.07" y2="916.05" stroke="#1c1c1c" stroke-width="1.3" />
<line x1="497.01" y1="911.75" x2="497.01" y2="916.05" stroke="#1c1c1c" stroke-width="1.3" />
<text x="421.25" y="928.3" font-size="9.7" text-anchor="middle" fill="#231f20" stroke="#231f20" stroke-width="0.18" >0</text>
<text x="440.19" y="928.3" font-size="9.7" text-anchor="middle" fill="#231f20" stroke="#231f20" stroke-width="0.18" >20</text>
<text x="459.13" y="928.3" font-size="9.7" text-anchor="middle" fill="#231f20" stroke="#231f20" stroke-width="0.18" >40</text>
<text x="478.07" y="928.3" font-size="9.7" text-anchor="middle" fill="#231f20" stroke="#231f20" stroke-width="0.18" >60</text>
<text x="497.01" y="928.3" font-size="9.7" text-anchor="middle" fill="#231f20" stroke="#231f20" stroke-width="0.18" >80</text>
<text x="412.41" y="946.1" font-size="11.9" fill="#231f20" stroke="#231f20" stroke-width="0.5" textLength="61.34" lengthAdjust="spacingAndGlyphs">[Plasma 1,5-AG]</text>
<text x="478" y="946.1" font-size="11.9" fill="#231f20" stroke="#231f20" stroke-width="0.5" textLength="31.31" lengthAdjust="spacingAndGlyphs">(µg/ml)</text>
<text transform="translate(391.9,907.68) rotate(-90)" x="0" y="0" font-size="11.9" fill="#231f20" stroke="#231f20" stroke-width="0.5" textLength="64.46" lengthAdjust="spacingAndGlyphs">Monocytes count</text>
<text transform="translate(391.9,840.18) rotate(-90)" x="0" y="0" font-size="11.9" fill="#231f20" stroke="#231f20" stroke-width="0.5" textLength="39.87" lengthAdjust="spacingAndGlyphs">(×10³/µL)</text>
<text x="440.3" y="827.5" font-size="9.6" font-style="italic" fill="#231f20" stroke="#231f20" stroke-width="0.18">P</text>
<rect x="448.7" y="822.5" width="6.3" height="1.15" fill="#231f20"/>
<rect x="448.7" y="825.3" width="6.3" height="1.15" fill="#231f20"/>
<text x="457.2" y="827.5" font-size="9.8" fill="#231f20" stroke="#231f20" stroke-width="0.18">.1945</text>
<line x1="422.05" y1="879.5" x2="489.43" y2="888.5" stroke="#555" stroke-width="1" />
<rect x="432.09" y="826.1" width="1.8" height="1.8" fill="#1d2b4f"/>
<rect x="429.63" y="840.35" width="1.8" height="1.8" fill="#1d2b4f"/>
<rect x="421.58" y="868.85" width="1.8" height="1.8" fill="#1d2b4f"/>
<rect x="461.07" y="865.1" width="1.8" height="1.8" fill="#1d2b4f"/>
<rect x="488.53" y="872.6" width="1.8" height="1.8" fill="#1d2b4f"/>
<rect x="421.58" y="880.1" width="1.8" height="1.8" fill="#1d2b4f"/>
<rect x="436.07" y="882.35" width="1.8" height="1.8" fill="#1d2b4f"/>
<rect x="424.61" y="886.85" width="1.8" height="1.8" fill="#1d2b4f"/>
<rect x="430.86" y="886.85" width="1.8" height="1.8" fill="#1d2b4f"/>
<rect x="425.37" y="889.1" width="1.8" height="1.8" fill="#1d2b4f"/>
<rect x="426.03" y="890.6" width="1.8" height="1.8" fill="#1d2b4f"/>
<rect x="464.57" y="891.35" width="1.8" height="1.8" fill="#1d2b4f"/>
<rect x="432.09" y="892.1" width="1.8" height="1.8" fill="#1d2b4f"/>
<rect x="434.08" y="892.85" width="1.8" height="1.8" fill="#1d2b4f"/>
<rect x="425.84" y="893.6" width="1.8" height="1.8" fill="#1d2b4f"/>
<rect x="467.13" y="894.35" width="1.8" height="1.8" fill="#1d2b4f"/>
<rect x="473.38" y="896.6" width="1.8" height="1.8" fill="#1d2b4f"/>
<rect x="461.07" y="899.6" width="1.8" height="1.8" fill="#1d2b4f"/>
<rect x="0.5" y="0.5" width="519" height="958" fill="none" stroke="#2a2a2a" stroke-width="1"/>
</svg></body></html>
